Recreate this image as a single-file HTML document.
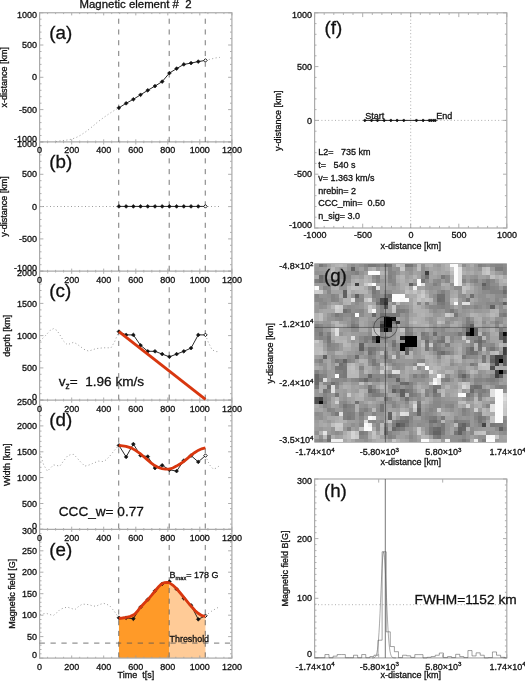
<!DOCTYPE html>
<html lang="en"><head><meta charset="utf-8"><title>Magnetic element # 2</title>
<style>html,body{margin:0;padding:0;background:#fff;}body{width:525px;height:681px;overflow:hidden;font-family:"Liberation Sans", Arial, Helvetica, sans-serif;}svg text{white-space:pre;fill:#111;stroke:#111;stroke-width:.3px;}</style>
</head><body>
<svg width="525" height="681" viewBox="0 0 525 681" font-family='"Liberation Sans", Arial, Helvetica, sans-serif' style="display:block">
<rect width="525" height="681" fill="#fff"/>
<polygon points="118.92,658.10 118.92,618.48 122.50,618.00 126.60,617.30 130.50,616.30 134.20,614.60 137.20,611.50 140.30,607.50 144.00,603.50 147.90,599.60 151.70,595.20 155.50,590.50 158.60,586.80 161.60,584.00 164.50,582.60 167.00,582.30 169.20,582.70 169.40,582.84 169.40,658.10" fill="#ff9a28"/>
<polygon points="169.40,658.10 169.40,582.84 173.00,585.30 176.90,589.00 180.70,593.50 184.50,598.10 188.30,602.80 192.10,607.30 195.20,610.70 198.20,613.30 201.50,615.40 205.40,616.50 205.46,616.50 205.46,658.10" fill="#ffcb97"/>
<path d="M39.6 12.8h3.8M39.6 19.2h1.9M39.6 25.7h1.9M39.6 32.1h1.9M39.6 38.6h1.9M39.6 45.0h3.8M39.6 51.5h1.9M39.6 58.0h1.9M39.6 64.4h1.9M39.6 70.9h1.9M39.6 77.3h3.8M39.6 83.8h1.9M39.6 90.3h1.9M39.6 96.7h1.9M39.6 103.2h1.9M39.6 109.6h3.8M39.6 116.1h1.9M39.6 122.6h1.9M39.6 129.0h1.9M39.6 135.5h1.9M39.6 141.9h3.8M231.9 12.8h-3.8M231.9 19.2h-1.9M231.9 25.7h-1.9M231.9 32.1h-1.9M231.9 38.6h-1.9M231.9 45.0h-3.8M231.9 51.5h-1.9M231.9 58.0h-1.9M231.9 64.4h-1.9M231.9 70.9h-1.9M231.9 77.3h-3.8M231.9 83.8h-1.9M231.9 90.3h-1.9M231.9 96.7h-1.9M231.9 103.2h-1.9M231.9 109.6h-3.8M231.9 116.1h-1.9M231.9 122.6h-1.9M231.9 129.0h-1.9M231.9 135.5h-1.9M231.9 141.9h-3.8M39.6 141.9v-2.6M47.6 141.9v-1.3M55.6 141.9v-1.3M63.6 141.9v-1.3M71.7 141.9v-2.6M79.7 141.9v-1.3M87.7 141.9v-1.3M95.7 141.9v-1.3M103.7 141.9v-2.6M111.7 141.9v-1.3M119.7 141.9v-1.3M127.7 141.9v-1.3M135.8 141.9v-2.6M143.8 141.9v-1.3M151.8 141.9v-1.3M159.8 141.9v-1.3M167.8 141.9v-2.6M175.8 141.9v-1.3M183.8 141.9v-1.3M191.8 141.9v-1.3M199.8 141.9v-2.6M207.9 141.9v-1.3M215.9 141.9v-1.3M223.9 141.9v-1.3M231.9 141.9v-2.6M39.6 12.8v2.6M47.6 12.8v1.3M55.6 12.8v1.3M63.6 12.8v1.3M71.7 12.8v2.6M79.7 12.8v1.3M87.7 12.8v1.3M95.7 12.8v1.3M103.7 12.8v2.6M111.7 12.8v1.3M119.7 12.8v1.3M127.7 12.8v1.3M135.8 12.8v2.6M143.8 12.8v1.3M151.8 12.8v1.3M159.8 12.8v1.3M167.8 12.8v2.6M175.8 12.8v1.3M183.8 12.8v1.3M191.8 12.8v1.3M199.8 12.8v2.6M207.9 12.8v1.3M215.9 12.8v1.3M223.9 12.8v1.3M231.9 12.8v2.6M39.6 141.9h3.8M39.6 148.4h1.9M39.6 154.9h1.9M39.6 161.3h1.9M39.6 167.8h1.9M39.6 174.3h3.8M39.6 180.7h1.9M39.6 187.2h1.9M39.6 193.6h1.9M39.6 200.1h1.9M39.6 206.6h3.8M39.6 213.0h1.9M39.6 219.5h1.9M39.6 226.0h1.9M39.6 232.4h1.9M39.6 238.9h3.8M39.6 245.3h1.9M39.6 251.8h1.9M39.6 258.3h1.9M39.6 264.7h1.9M39.6 271.2h3.8M231.9 141.9h-3.8M231.9 148.4h-1.9M231.9 154.9h-1.9M231.9 161.3h-1.9M231.9 167.8h-1.9M231.9 174.3h-3.8M231.9 180.7h-1.9M231.9 187.2h-1.9M231.9 193.6h-1.9M231.9 200.1h-1.9M231.9 206.6h-3.8M231.9 213.0h-1.9M231.9 219.5h-1.9M231.9 226.0h-1.9M231.9 232.4h-1.9M231.9 238.9h-3.8M231.9 245.3h-1.9M231.9 251.8h-1.9M231.9 258.3h-1.9M231.9 264.7h-1.9M231.9 271.2h-3.8M39.6 271.2v-2.6M47.6 271.2v-1.3M55.6 271.2v-1.3M63.6 271.2v-1.3M71.7 271.2v-2.6M79.7 271.2v-1.3M87.7 271.2v-1.3M95.7 271.2v-1.3M103.7 271.2v-2.6M111.7 271.2v-1.3M119.7 271.2v-1.3M127.7 271.2v-1.3M135.8 271.2v-2.6M143.8 271.2v-1.3M151.8 271.2v-1.3M159.8 271.2v-1.3M167.8 271.2v-2.6M175.8 271.2v-1.3M183.8 271.2v-1.3M191.8 271.2v-1.3M199.8 271.2v-2.6M207.9 271.2v-1.3M215.9 271.2v-1.3M223.9 271.2v-1.3M231.9 271.2v-2.6M39.6 141.9v2.6M47.6 141.9v1.3M55.6 141.9v1.3M63.6 141.9v1.3M71.7 141.9v2.6M79.7 141.9v1.3M87.7 141.9v1.3M95.7 141.9v1.3M103.7 141.9v2.6M111.7 141.9v1.3M119.7 141.9v1.3M127.7 141.9v1.3M135.8 141.9v2.6M143.8 141.9v1.3M151.8 141.9v1.3M159.8 141.9v1.3M167.8 141.9v2.6M175.8 141.9v1.3M183.8 141.9v1.3M191.8 141.9v1.3M199.8 141.9v2.6M207.9 141.9v1.3M215.9 141.9v1.3M223.9 141.9v1.3M231.9 141.9v2.6M39.6 271.2h3.8M39.6 277.6h1.9M39.6 284.1h1.9M39.6 290.5h1.9M39.6 297.0h1.9M39.6 303.4h3.8M39.6 309.9h1.9M39.6 316.3h1.9M39.6 322.8h1.9M39.6 329.2h1.9M39.6 335.6h3.8M39.6 342.1h1.9M39.6 348.5h1.9M39.6 355.0h1.9M39.6 361.4h1.9M39.6 367.9h3.8M39.6 374.3h1.9M39.6 380.8h1.9M39.6 387.2h1.9M39.6 393.7h1.9M39.6 400.1h3.8M231.9 271.2h-3.8M231.9 277.6h-1.9M231.9 284.1h-1.9M231.9 290.5h-1.9M231.9 297.0h-1.9M231.9 303.4h-3.8M231.9 309.9h-1.9M231.9 316.3h-1.9M231.9 322.8h-1.9M231.9 329.2h-1.9M231.9 335.6h-3.8M231.9 342.1h-1.9M231.9 348.5h-1.9M231.9 355.0h-1.9M231.9 361.4h-1.9M231.9 367.9h-3.8M231.9 374.3h-1.9M231.9 380.8h-1.9M231.9 387.2h-1.9M231.9 393.7h-1.9M231.9 400.1h-3.8M39.6 400.1v-2.6M47.6 400.1v-1.3M55.6 400.1v-1.3M63.6 400.1v-1.3M71.7 400.1v-2.6M79.7 400.1v-1.3M87.7 400.1v-1.3M95.7 400.1v-1.3M103.7 400.1v-2.6M111.7 400.1v-1.3M119.7 400.1v-1.3M127.7 400.1v-1.3M135.8 400.1v-2.6M143.8 400.1v-1.3M151.8 400.1v-1.3M159.8 400.1v-1.3M167.8 400.1v-2.6M175.8 400.1v-1.3M183.8 400.1v-1.3M191.8 400.1v-1.3M199.8 400.1v-2.6M207.9 400.1v-1.3M215.9 400.1v-1.3M223.9 400.1v-1.3M231.9 400.1v-2.6M39.6 271.2v2.6M47.6 271.2v1.3M55.6 271.2v1.3M63.6 271.2v1.3M71.7 271.2v2.6M79.7 271.2v1.3M87.7 271.2v1.3M95.7 271.2v1.3M103.7 271.2v2.6M111.7 271.2v1.3M119.7 271.2v1.3M127.7 271.2v1.3M135.8 271.2v2.6M143.8 271.2v1.3M151.8 271.2v1.3M159.8 271.2v1.3M167.8 271.2v2.6M175.8 271.2v1.3M183.8 271.2v1.3M191.8 271.2v1.3M199.8 271.2v2.6M207.9 271.2v1.3M215.9 271.2v1.3M223.9 271.2v1.3M231.9 271.2v2.6M39.6 400.1h3.8M39.6 405.3h1.9M39.6 410.4h1.9M39.6 415.6h1.9M39.6 420.8h1.9M39.6 425.9h3.8M39.6 431.1h1.9M39.6 436.3h1.9M39.6 441.4h1.9M39.6 446.6h1.9M39.6 451.8h3.8M39.6 456.9h1.9M39.6 462.1h1.9M39.6 467.3h1.9M39.6 472.5h1.9M39.6 477.6h3.8M39.6 482.8h1.9M39.6 488.0h1.9M39.6 493.1h1.9M39.6 498.3h1.9M39.6 503.5h3.8M39.6 508.6h1.9M39.6 513.8h1.9M39.6 519.0h1.9M39.6 524.1h1.9M39.6 529.3h3.8M231.9 400.1h-3.8M231.9 405.3h-1.9M231.9 410.4h-1.9M231.9 415.6h-1.9M231.9 420.8h-1.9M231.9 425.9h-3.8M231.9 431.1h-1.9M231.9 436.3h-1.9M231.9 441.4h-1.9M231.9 446.6h-1.9M231.9 451.8h-3.8M231.9 456.9h-1.9M231.9 462.1h-1.9M231.9 467.3h-1.9M231.9 472.5h-1.9M231.9 477.6h-3.8M231.9 482.8h-1.9M231.9 488.0h-1.9M231.9 493.1h-1.9M231.9 498.3h-1.9M231.9 503.5h-3.8M231.9 508.6h-1.9M231.9 513.8h-1.9M231.9 519.0h-1.9M231.9 524.1h-1.9M231.9 529.3h-3.8M39.6 529.3v-2.6M47.6 529.3v-1.3M55.6 529.3v-1.3M63.6 529.3v-1.3M71.7 529.3v-2.6M79.7 529.3v-1.3M87.7 529.3v-1.3M95.7 529.3v-1.3M103.7 529.3v-2.6M111.7 529.3v-1.3M119.7 529.3v-1.3M127.7 529.3v-1.3M135.8 529.3v-2.6M143.8 529.3v-1.3M151.8 529.3v-1.3M159.8 529.3v-1.3M167.8 529.3v-2.6M175.8 529.3v-1.3M183.8 529.3v-1.3M191.8 529.3v-1.3M199.8 529.3v-2.6M207.9 529.3v-1.3M215.9 529.3v-1.3M223.9 529.3v-1.3M231.9 529.3v-2.6M39.6 400.1v2.6M47.6 400.1v1.3M55.6 400.1v1.3M63.6 400.1v1.3M71.7 400.1v2.6M79.7 400.1v1.3M87.7 400.1v1.3M95.7 400.1v1.3M103.7 400.1v2.6M111.7 400.1v1.3M119.7 400.1v1.3M127.7 400.1v1.3M135.8 400.1v2.6M143.8 400.1v1.3M151.8 400.1v1.3M159.8 400.1v1.3M167.8 400.1v2.6M175.8 400.1v1.3M183.8 400.1v1.3M191.8 400.1v1.3M199.8 400.1v2.6M207.9 400.1v1.3M215.9 400.1v1.3M223.9 400.1v1.3M231.9 400.1v2.6M39.6 529.3h3.8M39.6 533.6h1.9M39.6 537.9h1.9M39.6 542.2h1.9M39.6 546.5h1.9M39.6 550.8h3.8M39.6 555.1h1.9M39.6 559.4h1.9M39.6 563.6h1.9M39.6 567.9h1.9M39.6 572.2h3.8M39.6 576.5h1.9M39.6 580.8h1.9M39.6 585.1h1.9M39.6 589.4h1.9M39.6 593.7h3.8M39.6 598.0h1.9M39.6 602.3h1.9M39.6 606.6h1.9M39.6 610.9h1.9M39.6 615.2h3.8M39.6 619.5h1.9M39.6 623.8h1.9M39.6 628.0h1.9M39.6 632.3h1.9M39.6 636.6h3.8M39.6 640.9h1.9M39.6 645.2h1.9M39.6 649.5h1.9M39.6 653.8h1.9M39.6 658.1h3.8M231.9 529.3h-3.8M231.9 533.6h-1.9M231.9 537.9h-1.9M231.9 542.2h-1.9M231.9 546.5h-1.9M231.9 550.8h-3.8M231.9 555.1h-1.9M231.9 559.4h-1.9M231.9 563.6h-1.9M231.9 567.9h-1.9M231.9 572.2h-3.8M231.9 576.5h-1.9M231.9 580.8h-1.9M231.9 585.1h-1.9M231.9 589.4h-1.9M231.9 593.7h-3.8M231.9 598.0h-1.9M231.9 602.3h-1.9M231.9 606.6h-1.9M231.9 610.9h-1.9M231.9 615.2h-3.8M231.9 619.5h-1.9M231.9 623.8h-1.9M231.9 628.0h-1.9M231.9 632.3h-1.9M231.9 636.6h-3.8M231.9 640.9h-1.9M231.9 645.2h-1.9M231.9 649.5h-1.9M231.9 653.8h-1.9M231.9 658.1h-3.8M39.6 658.1v-2.6M47.6 658.1v-1.3M55.6 658.1v-1.3M63.6 658.1v-1.3M71.7 658.1v-2.6M79.7 658.1v-1.3M87.7 658.1v-1.3M95.7 658.1v-1.3M103.7 658.1v-2.6M111.7 658.1v-1.3M119.7 658.1v-1.3M127.7 658.1v-1.3M135.8 658.1v-2.6M143.8 658.1v-1.3M151.8 658.1v-1.3M159.8 658.1v-1.3M167.8 658.1v-2.6M175.8 658.1v-1.3M183.8 658.1v-1.3M191.8 658.1v-1.3M199.8 658.1v-2.6M207.9 658.1v-1.3M215.9 658.1v-1.3M223.9 658.1v-1.3M231.9 658.1v-2.6M39.6 529.3v2.6M47.6 529.3v1.3M55.6 529.3v1.3M63.6 529.3v1.3M71.7 529.3v2.6M79.7 529.3v1.3M87.7 529.3v1.3M95.7 529.3v1.3M103.7 529.3v2.6M111.7 529.3v1.3M119.7 529.3v1.3M127.7 529.3v1.3M135.8 529.3v2.6M143.8 529.3v1.3M151.8 529.3v1.3M159.8 529.3v1.3M167.8 529.3v2.6M175.8 529.3v1.3M183.8 529.3v1.3M191.8 529.3v1.3M199.8 529.3v2.6M207.9 529.3v1.3M215.9 529.3v1.3M223.9 529.3v1.3M231.9 529.3v2.6" fill="none" stroke="#9a9a9a" stroke-width="0.8"/>
<rect x="39.60" y="12.75" width="192.30" height="645.35" fill="none" stroke="#aaaaaa" stroke-width="1.2"/>
<line x1="39.60" y1="141.95" x2="231.90" y2="141.95" stroke="#aaaaaa" stroke-width="1.2" />
<line x1="39.60" y1="271.20" x2="231.90" y2="271.20" stroke="#aaaaaa" stroke-width="1.2" />
<line x1="39.60" y1="400.10" x2="231.90" y2="400.10" stroke="#aaaaaa" stroke-width="1.2" />
<line x1="39.60" y1="529.30" x2="231.90" y2="529.30" stroke="#aaaaaa" stroke-width="1.2" />
<line x1="118.72" y1="12.75" x2="118.72" y2="658.10" stroke="#555" stroke-width="0.8" stroke-dasharray="5.1 5.64" stroke-dashoffset="-5.95"/>
<line x1="169.20" y1="12.75" x2="169.20" y2="658.10" stroke="#555" stroke-width="0.8" stroke-dasharray="5.1 5.64" stroke-dashoffset="-5.95"/>
<line x1="205.26" y1="12.75" x2="205.26" y2="658.10" stroke="#555" stroke-width="0.8" stroke-dasharray="5.1 5.64" stroke-dashoffset="-5.95"/>
<line x1="39.60" y1="643.10" x2="231.90" y2="643.10" stroke="#555" stroke-width="0.8" stroke-dasharray="5.3 5.6"/>
<polyline points="56.00,141.60 60.50,140.80 66.00,140.20 71.10,139.30 76.00,137.60 80.30,135.40 86.00,131.60 91.00,127.70 98.60,121.30 104.00,117.30 109.20,113.70 114.00,110.60 118.80,107.80" fill="none" stroke="#9c9c9c" stroke-width="1.0" stroke-dasharray="1 2.5"/>
<polyline points="205.40,60.40 210.80,59.10 215.80,57.90 219.80,57.40" fill="none" stroke="#9c9c9c" stroke-width="1.0" stroke-dasharray="1 2.5"/>
<polyline points="39.50,206.50 219.50,206.50" fill="none" stroke="#9c9c9c" stroke-width="1.0" stroke-dasharray="1 2.5"/>
<polyline points="40.00,341.00 46.20,334.90 50.00,330.50 53.60,328.60 57.00,330.50 59.90,334.90 63.50,341.00 67.40,344.80 70.50,343.50 73.60,342.30 76.50,343.80 79.80,346.10 84.00,349.30 88.60,351.10 92.00,350.00 96.00,348.60 103.50,347.80 111.00,347.80 114.50,342.00 118.80,331.60" fill="none" stroke="#9c9c9c" stroke-width="1.0" stroke-dasharray="1 2.5"/>
<polyline points="205.40,334.90 208.30,342.30 212.10,349.80 215.80,351.60 219.60,351.60" fill="none" stroke="#9c9c9c" stroke-width="1.0" stroke-dasharray="1 2.5"/>
<polyline points="40.00,453.60 43.70,464.90 47.40,471.10 50.50,468.00 53.60,464.90 56.80,465.50 59.90,466.10 63.50,461.00 67.40,456.10 70.50,454.60 73.60,454.40 76.70,457.50 79.80,461.10 84.80,466.10 88.50,465.20 92.30,463.60 98.50,461.10 103.50,461.60 106.50,459.50 109.80,456.10 114.30,450.50 118.80,445.40" fill="none" stroke="#9c9c9c" stroke-width="1.0" stroke-dasharray="1 2.5"/>
<polyline points="205.40,455.60 209.60,464.90 213.30,469.10 216.50,468.00 219.60,465.60" fill="none" stroke="#9c9c9c" stroke-width="1.0" stroke-dasharray="1 2.5"/>
<polyline points="40.00,614.50 46.20,613.30 50.00,614.60 53.60,615.30 56.70,612.80 59.90,609.60 63.60,608.00 67.40,607.10 71.00,608.30 74.90,609.60 78.60,606.50 82.30,604.10 88.60,604.60 92.30,605.80 96.00,606.30 99.70,604.50 103.50,603.30 106.60,604.20 109.80,605.80 114.80,612.00 118.80,617.80" fill="none" stroke="#9c9c9c" stroke-width="1.0" stroke-dasharray="1 2.5"/>
<polyline points="205.40,615.80 212.10,610.80 219.60,606.60" fill="none" stroke="#9c9c9c" stroke-width="1.0" stroke-dasharray="1 2.5"/>
<text x="37.10" y="17.95" font-size="9.0" text-anchor="end" >1000</text>
<text x="37.10" y="48.15" font-size="9.0" text-anchor="end" >500</text>
<text x="37.10" y="80.45" font-size="9.0" text-anchor="end" >0</text>
<text x="37.10" y="112.75" font-size="9.0" text-anchor="end" >-500</text>
<text x="37.10" y="141.65" font-size="9.0" text-anchor="end" >-1000</text>
<text x="39.60" y="153.35" font-size="9.0" text-anchor="middle" >0</text>
<text x="71.65" y="153.35" font-size="9.0" text-anchor="middle" >200</text>
<text x="103.70" y="153.35" font-size="9.0" text-anchor="middle" >400</text>
<text x="135.75" y="153.35" font-size="9.0" text-anchor="middle" >600</text>
<text x="167.80" y="153.35" font-size="9.0" text-anchor="middle" >800</text>
<text x="199.85" y="153.35" font-size="9.0" text-anchor="middle" >1000</text>
<text x="231.90" y="153.35" font-size="9.0" text-anchor="middle" >1200</text>
<text transform="translate(6.90,77.35) rotate(-90)" font-size="9.0" text-anchor="middle">x-distance [km]</text>
<text x="49.30" y="38.95" font-size="18.8" text-anchor="start" >(a)</text>
<text x="37.10" y="146.55" font-size="9.0" text-anchor="end" >1000</text>
<text x="37.10" y="177.36" font-size="9.0" text-anchor="end" >500</text>
<text x="37.10" y="209.67" font-size="9.0" text-anchor="end" >0</text>
<text x="37.10" y="241.99" font-size="9.0" text-anchor="end" >-500</text>
<text x="37.10" y="270.90" font-size="9.0" text-anchor="end" >-1000</text>
<text x="39.60" y="282.60" font-size="9.0" text-anchor="middle" >0</text>
<text x="71.65" y="282.60" font-size="9.0" text-anchor="middle" >200</text>
<text x="103.70" y="282.60" font-size="9.0" text-anchor="middle" >400</text>
<text x="135.75" y="282.60" font-size="9.0" text-anchor="middle" >600</text>
<text x="167.80" y="282.60" font-size="9.0" text-anchor="middle" >800</text>
<text x="199.85" y="282.60" font-size="9.0" text-anchor="middle" >1000</text>
<text x="231.90" y="282.60" font-size="9.0" text-anchor="middle" >1200</text>
<text transform="translate(6.90,206.57) rotate(-90)" font-size="9.0" text-anchor="middle">y-distance [km]</text>
<text x="49.30" y="168.15" font-size="18.8" text-anchor="start" >(b)</text>
<text x="37.10" y="275.80" font-size="9.0" text-anchor="end" >2000</text>
<text x="37.10" y="306.53" font-size="9.0" text-anchor="end" >1500</text>
<text x="37.10" y="338.75" font-size="9.0" text-anchor="end" >1000</text>
<text x="37.10" y="370.98" font-size="9.0" text-anchor="end" >500</text>
<text x="37.10" y="399.80" font-size="9.0" text-anchor="end" >0</text>
<text x="39.60" y="411.50" font-size="9.0" text-anchor="middle" >0</text>
<text x="71.65" y="411.50" font-size="9.0" text-anchor="middle" >200</text>
<text x="103.70" y="411.50" font-size="9.0" text-anchor="middle" >400</text>
<text x="135.75" y="411.50" font-size="9.0" text-anchor="middle" >600</text>
<text x="167.80" y="411.50" font-size="9.0" text-anchor="middle" >800</text>
<text x="199.85" y="411.50" font-size="9.0" text-anchor="middle" >1000</text>
<text x="231.90" y="411.50" font-size="9.0" text-anchor="middle" >1200</text>
<text transform="translate(9.90,335.65) rotate(-90)" font-size="9.0" text-anchor="middle">depth [km]</text>
<text x="49.30" y="297.40" font-size="18.8" text-anchor="start" >(c)</text>
<text x="37.10" y="404.70" font-size="9.0" text-anchor="end" >2500</text>
<text x="37.10" y="429.04" font-size="9.0" text-anchor="end" >2000</text>
<text x="37.10" y="454.88" font-size="9.0" text-anchor="end" >1500</text>
<text x="37.10" y="480.72" font-size="9.0" text-anchor="end" >1000</text>
<text x="37.10" y="506.56" font-size="9.0" text-anchor="end" >500</text>
<text x="37.10" y="529.00" font-size="9.0" text-anchor="end" >0</text>
<text x="39.60" y="540.70" font-size="9.0" text-anchor="middle" >0</text>
<text x="71.65" y="540.70" font-size="9.0" text-anchor="middle" >200</text>
<text x="103.70" y="540.70" font-size="9.0" text-anchor="middle" >400</text>
<text x="135.75" y="540.70" font-size="9.0" text-anchor="middle" >600</text>
<text x="167.80" y="540.70" font-size="9.0" text-anchor="middle" >800</text>
<text x="199.85" y="540.70" font-size="9.0" text-anchor="middle" >1000</text>
<text x="231.90" y="540.70" font-size="9.0" text-anchor="middle" >1200</text>
<text transform="translate(9.70,464.70) rotate(-90)" font-size="9.0" text-anchor="middle">Width [km]</text>
<text x="49.30" y="426.30" font-size="18.8" text-anchor="start" >(d)</text>
<text x="37.10" y="533.90" font-size="9.0" text-anchor="end" >300</text>
<text x="37.10" y="553.87" font-size="9.0" text-anchor="end" >250</text>
<text x="37.10" y="575.33" font-size="9.0" text-anchor="end" >200</text>
<text x="37.10" y="596.80" font-size="9.0" text-anchor="end" >150</text>
<text x="37.10" y="618.27" font-size="9.0" text-anchor="end" >100</text>
<text x="37.10" y="639.73" font-size="9.0" text-anchor="end" >50</text>
<text x="37.10" y="657.80" font-size="9.0" text-anchor="end" >0</text>
<text x="39.60" y="669.50" font-size="9.0" text-anchor="middle" >0</text>
<text x="71.65" y="669.50" font-size="9.0" text-anchor="middle" >200</text>
<text x="103.70" y="669.50" font-size="9.0" text-anchor="middle" >400</text>
<text x="135.75" y="669.50" font-size="9.0" text-anchor="middle" >600</text>
<text x="167.80" y="669.50" font-size="9.0" text-anchor="middle" >800</text>
<text x="199.85" y="669.50" font-size="9.0" text-anchor="middle" >1000</text>
<text x="231.90" y="669.50" font-size="9.0" text-anchor="middle" >1200</text>
<text transform="translate(15.30,593.70) rotate(-90)" font-size="9.0" text-anchor="middle">Magnetic field [G]</text>
<text x="49.30" y="555.50" font-size="18.8" text-anchor="start" >(e)</text>
<text x="135.60" y="8.30" font-size="11.4" text-anchor="middle" >Magnetic element #&#160; 2</text>
<text x="117.60" y="678.20" font-size="9.0" text-anchor="start" >Time&#160; t[s]</text>
<polyline points="118.92,107.80 126.13,103.30 133.35,99.30 140.56,94.80 147.77,90.30 154.98,86.10 162.19,81.60 169.40,73.10 176.61,68.60 183.82,64.40 191.04,63.10 198.25,61.60 205.46,60.40" fill="none" stroke="#111" stroke-width="0.9" />
<path d="M117.02 107.80L118.92 105.90L120.82 107.80L118.92 109.70Z" fill="#111" stroke="#111" stroke-width="0.6"/>
<path d="M124.23 103.30L126.13 101.40L128.03 103.30L126.13 105.20Z" fill="#111" stroke="#111" stroke-width="0.6"/>
<path d="M131.45 99.30L133.35 97.40L135.25 99.30L133.35 101.20Z" fill="#111" stroke="#111" stroke-width="0.6"/>
<path d="M138.66 94.80L140.56 92.90L142.46 94.80L140.56 96.70Z" fill="#111" stroke="#111" stroke-width="0.6"/>
<path d="M145.87 90.30L147.77 88.40L149.67 90.30L147.77 92.20Z" fill="#111" stroke="#111" stroke-width="0.6"/>
<path d="M153.08 86.10L154.98 84.20L156.88 86.10L154.98 88.00Z" fill="#111" stroke="#111" stroke-width="0.6"/>
<path d="M160.29 81.60L162.19 79.70L164.09 81.60L162.19 83.50Z" fill="#111" stroke="#111" stroke-width="0.6"/>
<path d="M167.50 73.10L169.40 71.20L171.30 73.10L169.40 75.00Z" fill="#111" stroke="#111" stroke-width="0.6"/>
<path d="M174.71 68.60L176.61 66.70L178.51 68.60L176.61 70.50Z" fill="#111" stroke="#111" stroke-width="0.6"/>
<path d="M181.92 64.40L183.82 62.50L185.72 64.40L183.82 66.30Z" fill="#111" stroke="#111" stroke-width="0.6"/>
<path d="M189.14 63.10L191.04 61.20L192.94 63.10L191.04 65.00Z" fill="#111" stroke="#111" stroke-width="0.6"/>
<path d="M196.35 61.60L198.25 59.70L200.15 61.60L198.25 63.50Z" fill="#111" stroke="#111" stroke-width="0.6"/>
<path d="M203.71 60.40L205.46 58.65L207.21 60.40L205.46 62.15Z" fill="#fff" stroke="#111" stroke-width="0.95"/>
<polyline points="118.92,206.40 126.13,206.40 133.35,206.40 140.56,206.40 147.77,206.40 154.98,206.40 162.19,206.40 169.40,206.40 176.61,206.40 183.82,206.40 191.04,206.40 198.25,206.40 205.46,206.40" fill="none" stroke="#111" stroke-width="0.9" />
<path d="M117.02 206.40L118.92 204.50L120.82 206.40L118.92 208.30Z" fill="#111" stroke="#111" stroke-width="0.6"/>
<path d="M124.23 206.40L126.13 204.50L128.03 206.40L126.13 208.30Z" fill="#111" stroke="#111" stroke-width="0.6"/>
<path d="M131.45 206.40L133.35 204.50L135.25 206.40L133.35 208.30Z" fill="#111" stroke="#111" stroke-width="0.6"/>
<path d="M138.66 206.40L140.56 204.50L142.46 206.40L140.56 208.30Z" fill="#111" stroke="#111" stroke-width="0.6"/>
<path d="M145.87 206.40L147.77 204.50L149.67 206.40L147.77 208.30Z" fill="#111" stroke="#111" stroke-width="0.6"/>
<path d="M153.08 206.40L154.98 204.50L156.88 206.40L154.98 208.30Z" fill="#111" stroke="#111" stroke-width="0.6"/>
<path d="M160.29 206.40L162.19 204.50L164.09 206.40L162.19 208.30Z" fill="#111" stroke="#111" stroke-width="0.6"/>
<path d="M167.50 206.40L169.40 204.50L171.30 206.40L169.40 208.30Z" fill="#111" stroke="#111" stroke-width="0.6"/>
<path d="M174.71 206.40L176.61 204.50L178.51 206.40L176.61 208.30Z" fill="#111" stroke="#111" stroke-width="0.6"/>
<path d="M181.92 206.40L183.82 204.50L185.72 206.40L183.82 208.30Z" fill="#111" stroke="#111" stroke-width="0.6"/>
<path d="M189.14 206.40L191.04 204.50L192.94 206.40L191.04 208.30Z" fill="#111" stroke="#111" stroke-width="0.6"/>
<path d="M196.35 206.40L198.25 204.50L200.15 206.40L198.25 208.30Z" fill="#111" stroke="#111" stroke-width="0.6"/>
<path d="M203.71 206.40L205.46 204.65L207.21 206.40L205.46 208.15Z" fill="#fff" stroke="#111" stroke-width="0.95"/>
<polyline points="118.92,331.60 126.13,334.90 133.35,334.90 140.56,345.30 147.77,351.30 154.98,351.30 162.19,354.10 169.40,356.80 176.61,354.10 183.82,351.30 191.04,348.10 198.25,334.90 205.46,334.90" fill="none" stroke="#111" stroke-width="0.9" />
<path d="M117.02 331.60L118.92 329.70L120.82 331.60L118.92 333.50Z" fill="#111" stroke="#111" stroke-width="0.6"/>
<path d="M124.23 334.90L126.13 333.00L128.03 334.90L126.13 336.80Z" fill="#111" stroke="#111" stroke-width="0.6"/>
<path d="M131.45 334.90L133.35 333.00L135.25 334.90L133.35 336.80Z" fill="#111" stroke="#111" stroke-width="0.6"/>
<path d="M138.66 345.30L140.56 343.40L142.46 345.30L140.56 347.20Z" fill="#111" stroke="#111" stroke-width="0.6"/>
<path d="M145.87 351.30L147.77 349.40L149.67 351.30L147.77 353.20Z" fill="#111" stroke="#111" stroke-width="0.6"/>
<path d="M153.08 351.30L154.98 349.40L156.88 351.30L154.98 353.20Z" fill="#111" stroke="#111" stroke-width="0.6"/>
<path d="M160.29 354.10L162.19 352.20L164.09 354.10L162.19 356.00Z" fill="#111" stroke="#111" stroke-width="0.6"/>
<path d="M167.50 356.80L169.40 354.90L171.30 356.80L169.40 358.70Z" fill="#111" stroke="#111" stroke-width="0.6"/>
<path d="M174.71 354.10L176.61 352.20L178.51 354.10L176.61 356.00Z" fill="#111" stroke="#111" stroke-width="0.6"/>
<path d="M181.92 351.30L183.82 349.40L185.72 351.30L183.82 353.20Z" fill="#111" stroke="#111" stroke-width="0.6"/>
<path d="M189.14 348.10L191.04 346.20L192.94 348.10L191.04 350.00Z" fill="#111" stroke="#111" stroke-width="0.6"/>
<path d="M196.35 334.90L198.25 333.00L200.15 334.90L198.25 336.80Z" fill="#111" stroke="#111" stroke-width="0.6"/>
<path d="M203.71 334.90L205.46 333.15L207.21 334.90L205.46 336.65Z" fill="#fff" stroke="#111" stroke-width="0.95"/>
<polyline points="118.92,331.60 205.46,399.30" fill="none" stroke="#d8370f" stroke-width="2.9" stroke-linecap="butt"/>
<polyline points="118.92,445.40 126.13,456.90 133.35,444.10 140.56,455.40 147.77,456.60 154.98,468.10 162.19,465.30 169.40,469.80 176.61,471.10 183.82,460.60 191.04,455.60 198.25,461.90 205.46,455.60" fill="none" stroke="#111" stroke-width="0.9" />
<path d="M117.02 445.40L118.92 443.50L120.82 445.40L118.92 447.30Z" fill="#111" stroke="#111" stroke-width="0.6"/>
<path d="M124.23 456.90L126.13 455.00L128.03 456.90L126.13 458.80Z" fill="#111" stroke="#111" stroke-width="0.6"/>
<path d="M131.45 444.10L133.35 442.20L135.25 444.10L133.35 446.00Z" fill="#111" stroke="#111" stroke-width="0.6"/>
<path d="M138.66 455.40L140.56 453.50L142.46 455.40L140.56 457.30Z" fill="#111" stroke="#111" stroke-width="0.6"/>
<path d="M145.87 456.60L147.77 454.70L149.67 456.60L147.77 458.50Z" fill="#111" stroke="#111" stroke-width="0.6"/>
<path d="M153.08 468.10L154.98 466.20L156.88 468.10L154.98 470.00Z" fill="#111" stroke="#111" stroke-width="0.6"/>
<path d="M160.29 465.30L162.19 463.40L164.09 465.30L162.19 467.20Z" fill="#111" stroke="#111" stroke-width="0.6"/>
<path d="M167.50 469.80L169.40 467.90L171.30 469.80L169.40 471.70Z" fill="#111" stroke="#111" stroke-width="0.6"/>
<path d="M174.71 471.10L176.61 469.20L178.51 471.10L176.61 473.00Z" fill="#111" stroke="#111" stroke-width="0.6"/>
<path d="M181.92 460.60L183.82 458.70L185.72 460.60L183.82 462.50Z" fill="#111" stroke="#111" stroke-width="0.6"/>
<path d="M189.14 455.60L191.04 453.70L192.94 455.60L191.04 457.50Z" fill="#111" stroke="#111" stroke-width="0.6"/>
<path d="M196.35 461.90L198.25 460.00L200.15 461.90L198.25 463.80Z" fill="#111" stroke="#111" stroke-width="0.6"/>
<path d="M203.71 455.60L205.46 453.85L207.21 455.60L205.46 457.35Z" fill="#fff" stroke="#111" stroke-width="0.95"/>
<polyline points="118.80,445.40 122.50,445.80 126.00,446.40 131.00,447.90 135.50,450.40 140.20,453.60 143.80,456.70 147.50,459.90 151.00,462.90 154.70,465.60 158.30,467.50 162.00,468.60 165.50,469.20 169.20,469.10 172.80,468.00 176.40,466.10 180.00,464.00 183.60,461.60 187.20,458.60 190.90,455.40 194.50,452.70 198.10,450.40 201.70,448.80 205.40,447.90" fill="none" stroke="#d8370f" stroke-width="2.8" />
<polyline points="118.92,617.80 126.13,617.80 133.35,618.80 140.56,607.10 147.77,599.60 154.98,590.80 162.19,583.90 169.40,581.60 176.61,589.10 183.82,598.30 191.04,605.30 198.25,619.30 205.46,615.80" fill="none" stroke="#111" stroke-width="0.9" />
<path d="M117.02 617.80L118.92 615.90L120.82 617.80L118.92 619.70Z" fill="#111" stroke="#111" stroke-width="0.6"/>
<path d="M124.23 617.80L126.13 615.90L128.03 617.80L126.13 619.70Z" fill="#111" stroke="#111" stroke-width="0.6"/>
<path d="M131.45 618.80L133.35 616.90L135.25 618.80L133.35 620.70Z" fill="#111" stroke="#111" stroke-width="0.6"/>
<path d="M138.66 607.10L140.56 605.20L142.46 607.10L140.56 609.00Z" fill="#111" stroke="#111" stroke-width="0.6"/>
<path d="M145.87 599.60L147.77 597.70L149.67 599.60L147.77 601.50Z" fill="#111" stroke="#111" stroke-width="0.6"/>
<path d="M153.08 590.80L154.98 588.90L156.88 590.80L154.98 592.70Z" fill="#111" stroke="#111" stroke-width="0.6"/>
<path d="M160.29 583.90L162.19 582.00L164.09 583.90L162.19 585.80Z" fill="#111" stroke="#111" stroke-width="0.6"/>
<path d="M167.50 581.60L169.40 579.70L171.30 581.60L169.40 583.50Z" fill="#111" stroke="#111" stroke-width="0.6"/>
<path d="M174.71 589.10L176.61 587.20L178.51 589.10L176.61 591.00Z" fill="#111" stroke="#111" stroke-width="0.6"/>
<path d="M181.92 598.30L183.82 596.40L185.72 598.30L183.82 600.20Z" fill="#111" stroke="#111" stroke-width="0.6"/>
<path d="M189.14 605.30L191.04 603.40L192.94 605.30L191.04 607.20Z" fill="#111" stroke="#111" stroke-width="0.6"/>
<path d="M196.35 619.30L198.25 617.40L200.15 619.30L198.25 621.20Z" fill="#111" stroke="#111" stroke-width="0.6"/>
<path d="M203.71 615.80L205.46 614.05L207.21 615.80L205.46 617.55Z" fill="#fff" stroke="#111" stroke-width="0.95"/>
<polyline points="118.80,618.50 122.50,618.00 126.60,617.30 130.50,616.30 134.20,614.60 137.20,611.50 140.30,607.50 144.00,603.50 147.90,599.60 151.70,595.20 155.50,590.50 158.60,586.80 161.60,584.00 164.50,582.60 167.00,582.30 169.20,582.70 173.00,585.30 176.90,589.00 180.70,593.50 184.50,598.10 188.30,602.80 192.10,607.30 195.20,610.70 198.20,613.30 201.50,615.40 205.40,616.50" fill="none" stroke="#d8370f" stroke-width="2.8" />
<text x="58.8" y="386.2" font-size="13.6">v<tspan font-size="8.2" dy="2.8">z</tspan><tspan dy="-2.8">=&#160; 1.96 km/s</tspan></text>
<text x="58.80" y="515.60" font-size="13.6" text-anchor="start" >CCC_w= 0.77</text>
<text x="169.6" y="577.8" font-size="9">B<tspan font-size="5.6" dy="1.8">max</tspan><tspan dy="-1.8">= 178 G</tspan></text>
<text x="169.60" y="641.50" font-size="8.9" text-anchor="start" >Threshold</text>
<path d="M314.6 12.8h3.8M314.6 23.6h1.9M314.6 34.3h1.9M314.6 45.1h1.9M314.6 55.8h1.9M314.6 66.6h3.8M314.6 77.4h1.9M314.6 88.1h1.9M314.6 98.9h1.9M314.6 109.6h1.9M314.6 120.4h3.8M314.6 131.2h1.9M314.6 141.9h1.9M314.6 152.7h1.9M314.6 163.4h1.9M314.6 174.2h3.8M314.6 185.0h1.9M314.6 195.7h1.9M314.6 206.5h1.9M314.6 217.2h1.9M314.6 228.0h3.8M506.8 12.8h-3.8M506.8 23.6h-1.9M506.8 34.3h-1.9M506.8 45.1h-1.9M506.8 55.8h-1.9M506.8 66.6h-3.8M506.8 77.4h-1.9M506.8 88.1h-1.9M506.8 98.9h-1.9M506.8 109.6h-1.9M506.8 120.4h-3.8M506.8 131.2h-1.9M506.8 141.9h-1.9M506.8 152.7h-1.9M506.8 163.4h-1.9M506.8 174.2h-3.8M506.8 185.0h-1.9M506.8 195.7h-1.9M506.8 206.5h-1.9M506.8 217.2h-1.9M506.8 228.0h-3.8M314.6 228.0v-4.3M324.2 228.0v-2.1M333.8 228.0v-2.1M343.4 228.0v-2.1M353.0 228.0v-2.1M362.7 228.0v-4.3M372.3 228.0v-2.1M381.9 228.0v-2.1M391.5 228.0v-2.1M401.1 228.0v-2.1M410.7 228.0v-4.3M420.3 228.0v-2.1M429.9 228.0v-2.1M439.5 228.0v-2.1M449.1 228.0v-2.1M458.8 228.0v-4.3M468.4 228.0v-2.1M478.0 228.0v-2.1M487.6 228.0v-2.1M497.2 228.0v-2.1M506.8 228.0v-4.3M314.6 12.8v4.3M324.2 12.8v2.1M333.8 12.8v2.1M343.4 12.8v2.1M353.0 12.8v2.1M362.7 12.8v4.3M372.3 12.8v2.1M381.9 12.8v2.1M391.5 12.8v2.1M401.1 12.8v2.1M410.7 12.8v4.3M420.3 12.8v2.1M429.9 12.8v2.1M439.5 12.8v2.1M449.1 12.8v2.1M458.8 12.8v4.3M468.4 12.8v2.1M478.0 12.8v2.1M487.6 12.8v2.1M497.2 12.8v2.1M506.8 12.8v4.3" fill="none" stroke="#9a9a9a" stroke-width="0.8"/>
<rect x="314.60" y="12.80" width="192.20" height="215.20" fill="none" stroke="#aaaaaa" stroke-width="1.2"/>
<line x1="410.70" y1="12.80" x2="410.70" y2="228.00" stroke="#999" stroke-width="0.8" stroke-dasharray="1 2.4"/>
<line x1="314.60" y1="120.40" x2="506.80" y2="120.40" stroke="#999" stroke-width="0.8" stroke-dasharray="1 2.4"/>
<text x="312.10" y="18.20" font-size="9.0" text-anchor="end" >1000</text>
<text x="312.10" y="69.70" font-size="9.0" text-anchor="end" >500</text>
<text x="312.10" y="123.50" font-size="9.0" text-anchor="end" >0</text>
<text x="312.10" y="177.30" font-size="9.0" text-anchor="end" >-500</text>
<text x="312.10" y="227.80" font-size="9.0" text-anchor="end" >-1000</text>
<text x="314.90" y="238.20" font-size="9.0" text-anchor="middle" >-1000</text>
<text x="362.95" y="238.20" font-size="9.0" text-anchor="middle" >-500</text>
<text x="411.00" y="238.20" font-size="9.0" text-anchor="middle" >0</text>
<text x="459.05" y="238.20" font-size="9.0" text-anchor="middle" >500</text>
<text x="507.10" y="238.20" font-size="9.0" text-anchor="middle" >1000</text>
<text x="410.70" y="249.40" font-size="9.0" text-anchor="middle" >x-distance [km]</text>
<text transform="translate(281.20,120.80) rotate(-90)" font-size="9.0" text-anchor="middle">y-distance [km]</text>
<text x="324.60" y="34.30" font-size="18.8" text-anchor="start" >(f)</text>
<polyline points="364.84,120.40 371.53,120.40 377.48,120.40 384.17,120.40 390.86,120.40 397.10,120.40 403.79,120.40 416.42,120.40 423.11,120.40 429.36,120.40 431.29,120.40 433.52,120.40 435.30,120.40" fill="none" stroke="#111" stroke-width="0.9" />
<path d="M363.34 120.40L364.84 118.90L366.34 120.40L364.84 121.90Z" fill="#111" stroke="#111" stroke-width="0.6"/>
<path d="M370.03 120.40L371.53 118.90L373.03 120.40L371.53 121.90Z" fill="#111" stroke="#111" stroke-width="0.6"/>
<path d="M375.98 120.40L377.48 118.90L378.98 120.40L377.48 121.90Z" fill="#111" stroke="#111" stroke-width="0.6"/>
<path d="M382.67 120.40L384.17 118.90L385.67 120.40L384.17 121.90Z" fill="#111" stroke="#111" stroke-width="0.6"/>
<path d="M389.36 120.40L390.86 118.90L392.36 120.40L390.86 121.90Z" fill="#111" stroke="#111" stroke-width="0.6"/>
<path d="M395.60 120.40L397.10 118.90L398.60 120.40L397.10 121.90Z" fill="#111" stroke="#111" stroke-width="0.6"/>
<path d="M402.29 120.40L403.79 118.90L405.29 120.40L403.79 121.90Z" fill="#111" stroke="#111" stroke-width="0.6"/>
<path d="M414.92 120.40L416.42 118.90L417.92 120.40L416.42 121.90Z" fill="#111" stroke="#111" stroke-width="0.6"/>
<path d="M421.61 120.40L423.11 118.90L424.61 120.40L423.11 121.90Z" fill="#111" stroke="#111" stroke-width="0.6"/>
<path d="M427.86 120.40L429.36 118.90L430.86 120.40L429.36 121.90Z" fill="#111" stroke="#111" stroke-width="0.6"/>
<path d="M429.79 120.40L431.29 118.90L432.79 120.40L431.29 121.90Z" fill="#111" stroke="#111" stroke-width="0.6"/>
<path d="M432.02 120.40L433.52 118.90L435.02 120.40L433.52 121.90Z" fill="#111" stroke="#111" stroke-width="0.6"/>
<path d="M433.80 120.40L435.30 118.90L436.80 120.40L435.30 121.90Z" fill="#111" stroke="#111" stroke-width="0.6"/>
<text x="365.30" y="118.60" font-size="9.0" text-anchor="start" >Start</text>
<text x="436.30" y="119.30" font-size="9.0" text-anchor="start" >End</text>
<text x="318.20" y="154.90" font-size="9.0" text-anchor="start" >L2=&#160;&#160; 735 km</text>
<text x="318.20" y="167.77" font-size="9.0" text-anchor="start" >t=&#160;&#160; 540 s</text>
<text x="318.20" y="180.64" font-size="9.0" text-anchor="start" >v= 1.363 km/s</text>
<text x="318.20" y="193.51" font-size="9.0" text-anchor="start" >nrebin= 2</text>
<text x="318.20" y="206.38" font-size="9.0" text-anchor="start" >CCC_min=&#160; 0.50</text>
<text x="318.20" y="219.25" font-size="9.0" text-anchor="start" >n_sig= 3.0</text>
<rect x="314.4" y="263.5" width="192.42" height="178.88" fill="#9e9e9e"/>
<defs><filter id="bl" x="-5%" y="-5%" width="110%" height="110%"><feGaussianBlur stdDeviation="0.55"/></filter><clipPath id="gc"><rect x="314.4" y="263.5" width="192.42" height="178.88"/></clipPath></defs>
<g clip-path="url(#gc)"><g filter="url(#bl)" stroke="none" shape-rendering="crispEdges">
<rect x="311.4" y="260.5" width="198.42" height="184.88" fill="#9a9a9a"/>
<path fill="#000000" d="M384.0 320.6H392.2V324.4H384.0ZM384.0 324.4H388.1V328.2H384.0Z"/>
<path fill="#040404" d="M384.0 316.8H392.2V320.6H384.0ZM388.1 324.4H392.2V328.2H388.1ZM384.0 328.2H388.1V332.0H384.0ZM470.0 328.2H474.1V332.0H470.0ZM470.0 332.0H474.1V335.8H470.0ZM404.5 335.8H416.8V339.6H404.5ZM375.8 339.6H379.9V343.4H375.8ZM404.5 339.6H416.8V343.4H404.5ZM400.4 343.4H416.8V347.2H400.4ZM400.4 347.2H404.5V351.0H400.4ZM498.6 358.6H502.7V362.5H498.6ZM498.6 370.1H502.7V373.9H498.6Z"/>
<path fill="#080808" d="M392.2 316.8H396.3V320.6H392.2ZM375.8 335.8H379.9V339.6H375.8ZM318.5 400.5H322.6V404.3H318.5Z"/>
<path fill="#101010" d="M502.7 332.0H506.8V335.8H502.7Z"/>
<path fill="#202020" d="M465.9 332.0H470.0V335.8H465.9Z"/>
<path fill="#282828" d="M400.4 335.8H404.5V339.6H400.4Z"/>
<path fill="#303030" d="M384.0 301.6H388.1V305.4H384.0Z"/>
<path fill="#343434" d="M396.3 320.6H400.4V324.4H396.3ZM379.9 324.4H384.0V328.2H379.9Z"/>
<path fill="#3c3c3c" d="M384.0 297.8H388.1V301.6H384.0Z"/>
<path fill="#404040" d="M424.9 271.1H429.0V274.9H424.9ZM355.3 282.5H359.4V286.3H355.3ZM388.1 328.2H392.2V332.0H388.1ZM502.7 347.2H506.8V351.0H502.7ZM502.7 351.0H506.8V354.8H502.7ZM494.5 354.8H502.7V358.6H494.5ZM494.5 358.6H498.6V362.5H494.5ZM494.5 362.5H498.6V366.3H494.5ZM494.5 373.9H498.6V377.7H494.5Z"/>
<path fill="#444444" d="M494.5 370.1H498.6V373.9H494.5ZM318.5 396.7H322.6V400.5H318.5ZM482.3 423.4H486.3V427.2H482.3Z"/>
<path fill="#484848" d="M379.9 328.2H384.0V332.0H379.9Z"/>
<path fill="#4c4c4c" d="M379.9 297.8H384.0V301.6H379.9Z"/>
<path fill="#505050" d="M379.9 301.6H384.0V305.4H379.9ZM371.7 335.8H375.8V339.6H371.7ZM502.7 335.8H506.8V339.6H502.7ZM502.7 339.6H506.8V343.4H502.7ZM490.4 366.3H494.5V370.1H490.4ZM314.4 396.7H318.5V400.5H314.4ZM314.4 400.5H318.5V404.3H314.4Z"/>
<path fill="#545454" d="M396.3 423.4H400.4V427.2H396.3Z"/>
<path fill="#585858" d="M384.0 305.4H388.1V309.2H384.0Z"/>
<path fill="#5c5c5c" d="M379.9 320.6H384.0V324.4H379.9Z"/>
<path fill="#606060" d="M351.2 267.3H355.3V271.1H351.2ZM408.6 282.5H412.7V286.3H408.6ZM482.3 282.5H486.3V286.3H482.3ZM343.1 290.1H347.2V293.9H343.1ZM343.1 293.9H347.2V297.8H343.1ZM355.3 293.9H359.4V297.8H355.3ZM502.7 301.6H506.8V305.4H502.7ZM490.4 305.4H494.5V309.2H490.4ZM470.0 324.4H474.1V328.2H470.0ZM465.9 328.2H470.0V332.0H465.9ZM474.1 328.2H478.2V332.0H474.1ZM474.1 332.0H478.2V335.8H474.1ZM498.6 332.0H502.7V335.8H498.6ZM498.6 335.8H502.7V339.6H498.6ZM359.4 347.2H363.5V351.0H359.4ZM404.5 347.2H408.6V351.0H404.5ZM404.5 351.0H408.6V354.8H404.5ZM322.6 354.8H326.7V358.6H322.6ZM502.7 354.8H506.8V358.6H502.7ZM490.4 358.6H494.5V362.5H490.4ZM502.7 358.6H506.8V362.5H502.7ZM502.7 362.5H506.8V366.3H502.7ZM502.7 370.1H506.8V373.9H502.7ZM498.6 373.9H502.7V377.7H498.6ZM396.3 377.7H400.4V381.5H396.3ZM392.2 389.1H396.3V392.9H392.2ZM400.4 389.1H404.5V392.9H400.4ZM400.4 392.9H404.5V396.7H400.4ZM388.1 415.7H392.2V419.5H388.1ZM498.6 427.2H502.7V431.0H498.6ZM457.7 431.0H461.8V434.8H457.7Z"/>
<path fill="#646464" d="M371.7 339.6H375.8V343.4H371.7ZM359.4 343.4H363.5V347.2H359.4ZM343.1 358.6H347.2V362.5H343.1ZM461.8 373.9H465.9V377.7H461.8ZM416.8 408.1H420.8V411.9H416.8ZM388.1 411.9H392.2V415.7H388.1ZM400.4 423.4H404.5V427.2H400.4ZM461.8 423.4H465.9V427.2H461.8ZM457.7 427.2H461.8V431.0H457.7ZM433.1 431.0H441.3V434.8H433.1Z"/>
<path fill="#686868" d="M371.7 313.0H375.8V316.8H371.7ZM478.2 339.6H482.3V343.4H478.2ZM470.0 347.2H474.1V351.0H470.0ZM490.4 354.8H494.5V358.6H490.4ZM314.4 373.9H318.5V377.7H314.4ZM367.6 373.9H371.7V377.7H367.6ZM314.4 377.7H318.5V381.5H314.4ZM363.5 377.7H367.6V381.5H363.5ZM314.4 381.5H318.5V385.3H314.4ZM404.5 381.5H408.6V385.3H404.5ZM367.6 389.1H371.7V392.9H367.6ZM416.8 411.9H420.8V415.7H416.8ZM392.2 427.2H396.3V431.0H392.2ZM437.2 427.2H441.3V431.0H437.2ZM461.8 427.2H465.9V431.0H461.8Z"/>
<path fill="#6c6c6c" d="M318.5 274.9H322.6V278.7H318.5ZM502.7 290.1H506.8V293.9H502.7ZM388.1 293.9H392.2V297.8H388.1ZM437.2 297.8H441.3V301.6H437.2ZM433.1 332.0H437.2V335.8H433.1ZM424.9 339.6H429.0V343.4H424.9ZM441.3 351.0H445.4V354.8H441.3ZM355.3 354.8H359.4V358.6H355.3ZM400.4 381.5H404.5V385.3H400.4ZM474.1 385.3H478.2V389.1H474.1ZM433.1 389.1H437.2V392.9H433.1ZM470.0 389.1H474.1V392.9H470.0ZM433.1 419.5H437.2V423.4H433.1ZM433.1 427.2H437.2V431.0H433.1ZM384.0 431.0H388.1V434.8H384.0Z"/>
<path fill="#707070" d="M424.9 274.9H429.0V278.7H424.9ZM318.5 278.7H322.6V282.5H318.5ZM437.2 293.9H445.4V297.8H437.2ZM470.0 293.9H474.1V297.8H470.0ZM441.3 297.8H445.4V301.6H441.3ZM375.8 301.6H379.9V305.4H375.8ZM343.1 309.2H347.2V313.0H343.1ZM379.9 313.0H384.0V316.8H379.9ZM478.2 335.8H482.3V339.6H478.2ZM441.3 339.6H445.4V343.4H441.3ZM392.2 343.4H396.3V347.2H392.2ZM478.2 343.4H482.3V347.2H478.2ZM367.6 351.0H371.7V354.8H367.6ZM470.0 351.0H474.1V354.8H470.0ZM339.0 362.5H343.1V366.3H339.0ZM388.1 373.9H392.2V377.7H388.1ZM330.8 381.5H334.9V385.3H330.8ZM326.7 385.3H330.8V389.1H326.7ZM478.2 385.3H482.3V389.1H478.2ZM404.5 396.7H408.6V400.5H404.5ZM355.3 400.5H359.4V404.3H355.3ZM416.8 404.3H420.8V408.1H416.8ZM400.4 419.5H408.6V423.4H400.4ZM429.0 419.5H433.1V423.4H429.0ZM457.7 423.4H461.8V427.2H457.7ZM326.7 438.6H330.8V442.4H326.7Z"/>
<path fill="#747474" d="M384.0 263.5H392.2V267.3H384.0ZM404.5 263.5H408.6V267.3H404.5ZM420.8 278.7H424.9V282.5H420.8ZM384.0 293.9H388.1V297.8H384.0ZM465.9 297.8H470.0V301.6H465.9ZM318.5 332.0H322.6V335.8H318.5ZM457.7 332.0H461.8V335.8H457.7ZM326.7 335.8H330.8V339.6H326.7ZM437.2 339.6H441.3V343.4H437.2ZM474.1 339.6H478.2V343.4H474.1ZM367.6 347.2H371.7V351.0H367.6ZM424.9 347.2H429.0V351.0H424.9ZM478.2 347.2H482.3V351.0H478.2ZM490.4 347.2H494.5V351.0H490.4ZM437.2 351.0H441.3V354.8H437.2ZM474.1 351.0H478.2V354.8H474.1ZM482.3 354.8H486.3V358.6H482.3ZM339.0 366.3H343.1V370.1H339.0ZM367.6 385.3H371.7V389.1H367.6ZM433.1 385.3H437.2V389.1H433.1ZM470.0 385.3H474.1V389.1H470.0ZM322.6 389.1H326.7V392.9H322.6ZM371.7 389.1H375.8V392.9H371.7ZM404.5 389.1H408.6V392.9H404.5ZM334.9 392.9H339.0V396.7H334.9ZM384.0 396.7H388.1V400.5H384.0ZM343.1 404.3H347.2V408.1H343.1ZM379.9 404.3H384.0V408.1H379.9ZM379.9 408.1H384.0V411.9H379.9ZM478.2 415.7H482.3V419.5H478.2ZM396.3 419.5H400.4V423.4H396.3ZM478.2 419.5H482.3V423.4H478.2ZM384.0 427.2H388.1V431.0H384.0ZM396.3 427.2H400.4V431.0H396.3ZM453.6 431.0H457.7V434.8H453.6ZM437.2 434.8H441.3V438.6H437.2Z"/>
<path fill="#787878" d="M318.5 263.5H322.6V267.3H318.5ZM367.6 263.5H375.8V267.3H367.6ZM408.6 263.5H412.7V267.3H408.6ZM441.3 274.9H445.4V278.7H441.3ZM371.7 286.3H375.8V290.1H371.7ZM482.3 286.3H486.3V290.1H482.3ZM371.7 290.1H375.8V293.9H371.7ZM441.3 301.6H445.4V305.4H441.3ZM449.5 309.2H453.6V313.0H449.5ZM334.9 313.0H339.0V316.8H334.9ZM384.0 313.0H396.3V316.8H384.0ZM453.6 313.0H457.7V316.8H453.6ZM502.7 313.0H506.8V316.8H502.7ZM379.9 316.8H384.0V320.6H379.9ZM392.2 320.6H396.3V324.4H392.2ZM351.2 324.4H355.3V328.2H351.2ZM465.9 324.4H470.0V328.2H465.9ZM404.5 332.0H408.6V335.8H404.5ZM420.8 332.0H424.9V335.8H420.8ZM441.3 335.8H445.4V339.6H441.3ZM326.7 339.6H330.8V343.4H326.7ZM392.2 339.6H396.3V343.4H392.2ZM424.9 343.4H429.0V347.2H424.9ZM371.7 347.2H375.8V351.0H371.7ZM433.1 347.2H437.2V351.0H433.1ZM465.9 351.0H470.0V354.8H465.9ZM384.0 354.8H388.1V358.6H384.0ZM461.8 354.8H465.9V358.6H461.8ZM334.9 358.6H339.0V362.5H334.9ZM371.7 358.6H375.8V362.5H371.7ZM482.3 358.6H486.3V362.5H482.3ZM371.7 362.5H375.8V366.3H371.7ZM470.0 362.5H474.1V366.3H470.0ZM334.9 366.3H339.0V370.1H334.9ZM343.1 366.3H347.2V370.1H343.1ZM343.1 370.1H347.2V373.9H343.1ZM343.1 373.9H347.2V377.7H343.1ZM457.7 373.9H461.8V377.7H457.7ZM318.5 377.7H322.6V381.5H318.5ZM359.4 377.7H363.5V381.5H359.4ZM314.4 385.3H318.5V389.1H314.4ZM437.2 385.3H441.3V389.1H437.2ZM396.3 389.1H400.4V392.9H396.3ZM408.6 392.9H412.7V396.7H408.6ZM433.1 392.9H437.2V396.7H433.1ZM465.9 392.9H470.0V396.7H465.9ZM322.6 400.5H326.7V404.3H322.6ZM416.8 400.5H420.8V404.3H416.8ZM334.9 411.9H339.0V415.7H334.9ZM347.2 415.7H351.2V419.5H347.2ZM404.5 415.7H408.6V419.5H404.5ZM433.1 415.7H437.2V419.5H433.1ZM441.3 415.7H445.4V419.5H441.3ZM453.6 419.5H457.7V423.4H453.6ZM404.5 423.4H408.6V427.2H404.5ZM441.3 423.4H445.4V427.2H441.3ZM465.9 423.4H470.0V427.2H465.9ZM490.4 423.4H494.5V427.2H490.4ZM429.0 427.2H433.1V431.0H429.0ZM441.3 427.2H445.4V431.0H441.3ZM429.0 431.0H433.1V434.8H429.0ZM326.7 434.8H330.8V438.6H326.7ZM461.8 438.6H465.9V442.4H461.8Z"/>
<path fill="#7c7c7c" d="M494.5 267.3H502.7V271.1H494.5ZM322.6 274.9H326.7V278.7H322.6ZM314.4 278.7H318.5V282.5H314.4ZM322.6 278.7H326.7V282.5H322.6ZM486.3 278.7H490.4V282.5H486.3ZM486.3 282.5H490.4V286.3H486.3ZM486.3 286.3H490.4V290.1H486.3ZM502.7 286.3H506.8V290.1H502.7ZM388.1 297.8H392.2V301.6H388.1ZM437.2 301.6H441.3V305.4H437.2ZM347.2 309.2H351.2V313.0H347.2ZM396.3 309.2H404.5V313.0H396.3ZM396.3 313.0H400.4V316.8H396.3ZM465.9 320.6H470.0V324.4H465.9ZM404.5 328.2H408.6V332.0H404.5ZM498.6 328.2H502.7V332.0H498.6ZM408.6 332.0H412.7V335.8H408.6ZM363.5 335.8H367.6V339.6H363.5ZM424.9 335.8H429.0V339.6H424.9ZM363.5 339.6H367.6V343.4H363.5ZM482.3 339.6H486.3V343.4H482.3ZM433.1 343.4H437.2V347.2H433.1ZM445.4 343.4H449.5V347.2H445.4ZM465.9 347.2H470.0V351.0H465.9ZM343.1 362.5H347.2V366.3H343.1ZM339.0 373.9H343.1V377.7H339.0ZM392.2 373.9H396.3V377.7H392.2ZM412.7 373.9H416.8V377.7H412.7ZM375.8 377.7H379.9V381.5H375.8ZM445.4 377.7H449.5V381.5H445.4ZM490.4 377.7H494.5V381.5H490.4ZM408.6 389.1H412.7V392.9H408.6ZM482.3 389.1H486.3V392.9H482.3ZM371.7 392.9H379.9V396.7H371.7ZM478.2 392.9H482.3V396.7H478.2ZM347.2 411.9H351.2V415.7H347.2ZM359.4 411.9H363.5V415.7H359.4ZM429.0 415.7H433.1V419.5H429.0ZM482.3 415.7H486.3V419.5H482.3ZM392.2 423.4H396.3V427.2H392.2ZM494.5 423.4H502.7V427.2H494.5ZM400.4 427.2H404.5V431.0H400.4ZM359.4 431.0H363.5V434.8H359.4ZM441.3 431.0H445.4V434.8H441.3ZM433.1 434.8H437.2V438.6H433.1Z"/>
<path fill="#808080" d="M375.8 263.5H379.9V267.3H375.8ZM478.2 263.5H482.3V267.3H478.2ZM355.3 271.1H359.4V274.9H355.3ZM375.8 274.9H379.9V278.7H375.8ZM388.1 274.9H392.2V278.7H388.1ZM474.1 278.7H478.2V282.5H474.1ZM433.1 282.5H437.2V286.3H433.1ZM441.3 290.1H445.4V293.9H441.3ZM371.7 293.9H375.8V297.8H371.7ZM375.8 297.8H379.9V301.6H375.8ZM424.9 301.6H429.0V305.4H424.9ZM379.9 305.4H384.0V309.2H379.9ZM441.3 305.4H445.4V309.2H441.3ZM498.6 313.0H502.7V316.8H498.6ZM465.9 316.8H470.0V320.6H465.9ZM494.5 320.6H498.6V324.4H494.5ZM314.4 324.4H318.5V328.2H314.4ZM355.3 324.4H359.4V328.2H355.3ZM326.7 332.0H330.8V335.8H326.7ZM482.3 332.0H486.3V335.8H482.3ZM367.6 335.8H371.7V339.6H367.6ZM420.8 335.8H424.9V339.6H420.8ZM326.7 343.4H330.8V347.2H326.7ZM408.6 347.2H412.7V351.0H408.6ZM437.2 347.2H441.3V351.0H437.2ZM371.7 351.0H375.8V354.8H371.7ZM384.0 351.0H388.1V354.8H384.0ZM445.4 351.0H449.5V354.8H445.4ZM318.5 358.6H322.6V362.5H318.5ZM339.0 358.6H343.1V362.5H339.0ZM375.8 362.5H379.9V366.3H375.8ZM490.4 362.5H494.5V366.3H490.4ZM339.0 370.1H343.1V373.9H339.0ZM318.5 373.9H322.6V377.7H318.5ZM420.8 373.9H424.9V377.7H420.8ZM465.9 373.9H470.0V377.7H465.9ZM367.6 377.7H371.7V381.5H367.6ZM461.8 377.7H465.9V381.5H461.8ZM486.3 377.7H490.4V381.5H486.3ZM334.9 381.5H339.0V385.3H334.9ZM408.6 381.5H412.7V385.3H408.6ZM392.2 385.3H396.3V389.1H392.2ZM498.6 385.3H502.7V389.1H498.6ZM326.7 389.1H330.8V392.9H326.7ZM478.2 389.1H482.3V392.9H478.2ZM412.7 392.9H416.8V396.7H412.7ZM424.9 392.9H429.0V396.7H424.9ZM437.2 392.9H441.3V396.7H437.2ZM322.6 396.7H326.7V400.5H322.6ZM347.2 404.3H351.2V408.1H347.2ZM343.1 408.1H347.2V411.9H343.1ZM363.5 408.1H367.6V411.9H363.5ZM461.8 408.1H465.9V411.9H461.8ZM343.1 411.9H347.2V415.7H343.1ZM351.2 411.9H355.3V415.7H351.2ZM478.2 411.9H482.3V415.7H478.2ZM343.1 415.7H347.2V419.5H343.1ZM351.2 415.7H355.3V419.5H351.2ZM400.4 415.7H404.5V419.5H400.4ZM437.2 419.5H441.3V423.4H437.2ZM457.7 419.5H465.9V423.4H457.7ZM429.0 423.4H433.1V427.2H429.0ZM347.2 427.2H351.2V431.0H347.2ZM502.7 427.2H506.8V431.0H502.7ZM461.8 431.0H465.9V434.8H461.8ZM388.1 434.8H392.2V438.6H388.1ZM482.3 438.6H486.3V442.4H482.3Z"/>
<path fill="#848484" d="M363.5 263.5H367.6V267.3H363.5ZM494.5 263.5H502.7V267.3H494.5ZM388.1 267.3H392.2V271.1H388.1ZM388.1 271.1H392.2V274.9H388.1ZM343.1 274.9H347.2V278.7H343.1ZM375.8 278.7H379.9V282.5H375.8ZM388.1 278.7H392.2V282.5H388.1ZM461.8 278.7H465.9V282.5H461.8ZM490.4 286.3H494.5V290.1H490.4ZM375.8 290.1H379.9V293.9H375.8ZM490.4 290.1H502.7V293.9H490.4ZM314.4 293.9H318.5V297.8H314.4ZM330.8 293.9H334.9V297.8H330.8ZM375.8 293.9H379.9V297.8H375.8ZM502.7 293.9H506.8V297.8H502.7ZM330.8 297.8H334.9V301.6H330.8ZM355.3 297.8H359.4V301.6H355.3ZM498.6 301.6H502.7V305.4H498.6ZM437.2 305.4H441.3V309.2H437.2ZM474.1 305.4H478.2V309.2H474.1ZM379.9 309.2H384.0V313.0H379.9ZM404.5 309.2H408.6V313.0H404.5ZM339.0 313.0H343.1V316.8H339.0ZM351.2 313.0H355.3V316.8H351.2ZM351.2 320.6H355.3V324.4H351.2ZM470.0 320.6H474.1V324.4H470.0ZM314.4 328.2H322.6V332.0H314.4ZM424.9 332.0H429.0V335.8H424.9ZM461.8 332.0H465.9V335.8H461.8ZM318.5 335.8H322.6V339.6H318.5ZM379.9 335.8H384.0V339.6H379.9ZM474.1 335.8H478.2V339.6H474.1ZM433.1 339.6H437.2V343.4H433.1ZM375.8 347.2H379.9V351.0H375.8ZM392.2 347.2H396.3V351.0H392.2ZM486.3 347.2H490.4V351.0H486.3ZM396.3 351.0H400.4V354.8H396.3ZM367.6 354.8H371.7V358.6H367.6ZM396.3 354.8H400.4V358.6H396.3ZM347.2 358.6H351.2V362.5H347.2ZM388.1 358.6H392.2V362.5H388.1ZM420.8 358.6H424.9V362.5H420.8ZM392.2 362.5H396.3V366.3H392.2ZM412.7 362.5H416.8V366.3H412.7ZM474.1 362.5H478.2V366.3H474.1ZM359.4 366.3H363.5V370.1H359.4ZM314.4 370.1H318.5V373.9H314.4ZM334.9 370.1H339.0V373.9H334.9ZM457.7 370.1H461.8V373.9H457.7ZM322.6 373.9H326.7V377.7H322.6ZM396.3 373.9H400.4V377.7H396.3ZM490.4 373.9H494.5V377.7H490.4ZM355.3 377.7H359.4V381.5H355.3ZM371.7 377.7H375.8V381.5H371.7ZM441.3 377.7H445.4V381.5H441.3ZM474.1 377.7H482.3V381.5H474.1ZM494.5 377.7H498.6V381.5H494.5ZM396.3 385.3H400.4V389.1H396.3ZM408.6 385.3H412.7V389.1H408.6ZM494.5 385.3H498.6V389.1H494.5ZM502.7 385.3H506.8V389.1H502.7ZM375.8 389.1H379.9V392.9H375.8ZM424.9 389.1H429.0V392.9H424.9ZM322.6 392.9H326.7V396.7H322.6ZM379.9 392.9H384.0V396.7H379.9ZM470.0 392.9H474.1V396.7H470.0ZM478.2 396.7H482.3V400.5H478.2ZM351.2 404.3H355.3V408.1H351.2ZM392.2 404.3H396.3V408.1H392.2ZM449.5 404.3H453.6V408.1H449.5ZM486.3 404.3H490.4V408.1H486.3ZM326.7 408.1H330.8V411.9H326.7ZM347.2 408.1H351.2V411.9H347.2ZM429.0 408.1H433.1V411.9H429.0ZM371.7 411.9H375.8V415.7H371.7ZM461.8 411.9H465.9V415.7H461.8ZM408.6 415.7H412.7V419.5H408.6ZM424.9 415.7H429.0V419.5H424.9ZM474.1 415.7H478.2V419.5H474.1ZM371.7 419.5H375.8V423.4H371.7ZM392.2 419.5H396.3V423.4H392.2ZM465.9 419.5H470.0V423.4H465.9ZM482.3 419.5H486.3V423.4H482.3ZM502.7 419.5H506.8V423.4H502.7ZM384.0 423.4H388.1V427.2H384.0ZM437.2 423.4H441.3V427.2H437.2ZM478.2 423.4H482.3V427.2H478.2ZM363.5 431.0H367.6V434.8H363.5ZM388.1 431.0H392.2V434.8H388.1ZM318.5 438.6H322.6V442.4H318.5Z"/>
<path fill="#888888" d="M322.6 263.5H326.7V267.3H322.6ZM379.9 263.5H384.0V267.3H379.9ZM482.3 263.5H486.3V267.3H482.3ZM490.4 263.5H494.5V267.3H490.4ZM502.7 267.3H506.8V271.1H502.7ZM351.2 271.1H355.3V274.9H351.2ZM392.2 271.1H396.3V274.9H392.2ZM502.7 271.1H506.8V274.9H502.7ZM347.2 274.9H351.2V278.7H347.2ZM420.8 274.9H424.9V278.7H420.8ZM445.4 274.9H449.5V278.7H445.4ZM392.2 278.7H396.3V282.5H392.2ZM437.2 278.7H441.3V282.5H437.2ZM445.4 278.7H449.5V282.5H445.4ZM470.0 278.7H474.1V282.5H470.0ZM482.3 278.7H486.3V282.5H482.3ZM490.4 278.7H494.5V282.5H490.4ZM392.2 282.5H396.3V286.3H392.2ZM322.6 286.3H326.7V290.1H322.6ZM494.5 286.3H498.6V290.1H494.5ZM326.7 290.1H330.8V293.9H326.7ZM314.4 297.8H322.6V301.6H314.4ZM334.9 297.8H339.0V301.6H334.9ZM359.4 297.8H363.5V301.6H359.4ZM494.5 297.8H498.6V301.6H494.5ZM322.6 301.6H326.7V305.4H322.6ZM392.2 301.6H396.3V305.4H392.2ZM416.8 301.6H420.8V305.4H416.8ZM445.4 301.6H449.5V305.4H445.4ZM486.3 301.6H498.6V305.4H486.3ZM396.3 305.4H400.4V309.2H396.3ZM429.0 305.4H437.2V309.2H429.0ZM445.4 305.4H449.5V309.2H445.4ZM461.8 305.4H465.9V309.2H461.8ZM359.4 309.2H363.5V313.0H359.4ZM445.4 309.2H449.5V313.0H445.4ZM339.0 316.8H343.1V320.6H339.0ZM351.2 316.8H355.3V320.6H351.2ZM375.8 320.6H379.9V324.4H375.8ZM318.5 324.4H322.6V328.2H318.5ZM375.8 324.4H379.9V328.2H375.8ZM461.8 324.4H465.9V328.2H461.8ZM494.5 324.4H498.6V328.2H494.5ZM408.6 328.2H412.7V332.0H408.6ZM441.3 328.2H445.4V332.0H441.3ZM461.8 328.2H465.9V332.0H461.8ZM314.4 332.0H318.5V335.8H314.4ZM379.9 332.0H384.0V335.8H379.9ZM453.6 332.0H457.7V335.8H453.6ZM322.6 335.8H326.7V339.6H322.6ZM359.4 335.8H363.5V339.6H359.4ZM384.0 335.8H388.1V339.6H384.0ZM437.2 335.8H441.3V339.6H437.2ZM449.5 335.8H453.6V339.6H449.5ZM470.0 335.8H474.1V339.6H470.0ZM330.8 343.4H334.9V347.2H330.8ZM437.2 343.4H441.3V347.2H437.2ZM470.0 343.4H474.1V347.2H470.0ZM490.4 343.4H494.5V347.2H490.4ZM326.7 347.2H334.9V351.0H326.7ZM437.2 354.8H441.3V358.6H437.2ZM465.9 354.8H470.0V358.6H465.9ZM367.6 358.6H371.7V362.5H367.6ZM384.0 358.6H388.1V362.5H384.0ZM416.8 358.6H420.8V362.5H416.8ZM371.7 373.9H379.9V377.7H371.7ZM334.9 377.7H339.0V381.5H334.9ZM343.1 377.7H347.2V381.5H343.1ZM351.2 377.7H355.3V381.5H351.2ZM482.3 377.7H486.3V381.5H482.3ZM322.6 381.5H330.8V385.3H322.6ZM474.1 381.5H478.2V385.3H474.1ZM490.4 381.5H494.5V385.3H490.4ZM334.9 385.3H339.0V389.1H334.9ZM404.5 385.3H408.6V389.1H404.5ZM474.1 389.1H478.2V392.9H474.1ZM486.3 389.1H490.4V392.9H486.3ZM367.6 392.9H371.7V396.7H367.6ZM388.1 396.7H392.2V400.5H388.1ZM465.9 396.7H470.0V400.5H465.9ZM343.1 400.5H347.2V404.3H343.1ZM392.2 400.5H396.3V404.3H392.2ZM404.5 400.5H408.6V404.3H404.5ZM433.1 400.5H441.3V404.3H433.1ZM322.6 404.3H326.7V408.1H322.6ZM433.1 404.3H441.3V408.1H433.1ZM445.4 404.3H449.5V408.1H445.4ZM330.8 408.1H334.9V411.9H330.8ZM351.2 408.1H355.3V411.9H351.2ZM359.4 408.1H363.5V411.9H359.4ZM330.8 411.9H334.9V415.7H330.8ZM412.7 411.9H416.8V415.7H412.7ZM424.9 411.9H429.0V415.7H424.9ZM474.1 411.9H478.2V415.7H474.1ZM359.4 415.7H363.5V419.5H359.4ZM367.6 419.5H371.7V423.4H367.6ZM379.9 419.5H384.0V423.4H379.9ZM408.6 419.5H412.7V423.4H408.6ZM359.4 423.4H363.5V427.2H359.4ZM375.8 423.4H379.9V427.2H375.8ZM502.7 423.4H506.8V427.2H502.7ZM375.8 427.2H379.9V431.0H375.8ZM470.0 431.0H474.1V434.8H470.0ZM359.4 434.8H363.5V438.6H359.4ZM392.2 434.8H396.3V438.6H392.2ZM408.6 434.8H412.7V438.6H408.6ZM461.8 434.8H465.9V438.6H461.8ZM457.7 438.6H461.8V442.4H457.7ZM465.9 438.6H470.0V442.4H465.9Z"/>
<path fill="#8c8c8c" d="M351.2 263.5H355.3V267.3H351.2ZM461.8 263.5H465.9V267.3H461.8ZM502.7 263.5H506.8V267.3H502.7ZM363.5 267.3H367.6V271.1H363.5ZM339.0 271.1H343.1V274.9H339.0ZM347.2 271.1H351.2V274.9H347.2ZM371.7 274.9H375.8V278.7H371.7ZM392.2 274.9H396.3V278.7H392.2ZM343.1 278.7H351.2V282.5H343.1ZM424.9 278.7H429.0V282.5H424.9ZM433.1 278.7H437.2V282.5H433.1ZM330.8 282.5H334.9V286.3H330.8ZM412.7 282.5H416.8V286.3H412.7ZM437.2 282.5H441.3V286.3H437.2ZM490.4 282.5H494.5V286.3H490.4ZM326.7 286.3H330.8V290.1H326.7ZM453.6 286.3H461.8V290.1H453.6ZM437.2 290.1H441.3V293.9H437.2ZM482.3 290.1H490.4V293.9H482.3ZM334.9 293.9H339.0V297.8H334.9ZM359.4 293.9H363.5V297.8H359.4ZM379.9 293.9H384.0V297.8H379.9ZM433.1 293.9H437.2V297.8H433.1ZM461.8 293.9H465.9V297.8H461.8ZM494.5 293.9H502.7V297.8H494.5ZM318.5 301.6H322.6V305.4H318.5ZM355.3 301.6H359.4V305.4H355.3ZM347.2 305.4H351.2V309.2H347.2ZM465.9 305.4H470.0V309.2H465.9ZM478.2 305.4H482.3V309.2H478.2ZM486.3 305.4H490.4V309.2H486.3ZM498.6 305.4H502.7V309.2H498.6ZM355.3 309.2H359.4V313.0H355.3ZM433.1 309.2H437.2V313.0H433.1ZM453.6 309.2H457.7V313.0H453.6ZM502.7 309.2H506.8V313.0H502.7ZM330.8 313.0H334.9V316.8H330.8ZM343.1 313.0H351.2V316.8H343.1ZM359.4 313.0H363.5V316.8H359.4ZM404.5 313.0H408.6V316.8H404.5ZM334.9 316.8H339.0V320.6H334.9ZM355.3 316.8H359.4V320.6H355.3ZM375.8 316.8H379.9V320.6H375.8ZM371.7 320.6H375.8V324.4H371.7ZM445.4 320.6H449.5V324.4H445.4ZM482.3 320.6H486.3V324.4H482.3ZM498.6 320.6H502.7V324.4H498.6ZM371.7 324.4H375.8V328.2H371.7ZM404.5 324.4H408.6V328.2H404.5ZM351.2 328.2H359.4V332.0H351.2ZM433.1 328.2H437.2V332.0H433.1ZM502.7 328.2H506.8V332.0H502.7ZM367.6 332.0H371.7V335.8H367.6ZM441.3 332.0H453.6V335.8H441.3ZM486.3 332.0H490.4V335.8H486.3ZM314.4 335.8H318.5V339.6H314.4ZM429.0 335.8H433.1V339.6H429.0ZM486.3 335.8H490.4V339.6H486.3ZM359.4 339.6H363.5V343.4H359.4ZM367.6 339.6H371.7V343.4H367.6ZM384.0 339.6H388.1V343.4H384.0ZM449.5 339.6H453.6V343.4H449.5ZM470.0 339.6H474.1V343.4H470.0ZM334.9 343.4H339.0V347.2H334.9ZM396.3 343.4H400.4V347.2H396.3ZM482.3 343.4H490.4V347.2H482.3ZM363.5 347.2H367.6V351.0H363.5ZM379.9 347.2H384.0V351.0H379.9ZM396.3 347.2H400.4V351.0H396.3ZM441.3 347.2H445.4V351.0H441.3ZM494.5 347.2H498.6V351.0H494.5ZM359.4 351.0H363.5V354.8H359.4ZM449.5 351.0H453.6V354.8H449.5ZM347.2 354.8H351.2V358.6H347.2ZM371.7 354.8H375.8V358.6H371.7ZM470.0 354.8H478.2V358.6H470.0ZM314.4 358.6H318.5V362.5H314.4ZM351.2 358.6H355.3V362.5H351.2ZM396.3 362.5H400.4V366.3H396.3ZM449.5 362.5H453.6V366.3H449.5ZM375.8 366.3H379.9V370.1H375.8ZM396.3 366.3H400.4V370.1H396.3ZM416.8 366.3H420.8V370.1H416.8ZM322.6 370.1H326.7V373.9H322.6ZM461.8 370.1H465.9V373.9H461.8ZM379.9 373.9H388.1V377.7H379.9ZM416.8 373.9H420.8V377.7H416.8ZM424.9 373.9H429.0V377.7H424.9ZM445.4 373.9H449.5V377.7H445.4ZM478.2 373.9H482.3V377.7H478.2ZM330.8 377.7H334.9V381.5H330.8ZM339.0 377.7H343.1V381.5H339.0ZM379.9 377.7H384.0V381.5H379.9ZM465.9 377.7H470.0V381.5H465.9ZM478.2 381.5H482.3V385.3H478.2ZM494.5 381.5H498.6V385.3H494.5ZM429.0 385.3H433.1V389.1H429.0ZM429.0 389.1H433.1V392.9H429.0ZM416.8 392.9H420.8V396.7H416.8ZM482.3 392.9H486.3V396.7H482.3ZM326.7 396.7H330.8V400.5H326.7ZM400.4 396.7H404.5V400.5H400.4ZM408.6 396.7H412.7V400.5H408.6ZM416.8 396.7H420.8V400.5H416.8ZM433.1 396.7H441.3V400.5H433.1ZM339.0 400.5H343.1V404.3H339.0ZM388.1 400.5H392.2V404.3H388.1ZM339.0 404.3H343.1V408.1H339.0ZM429.0 404.3H433.1V408.1H429.0ZM375.8 408.1H379.9V411.9H375.8ZM433.1 408.1H437.2V411.9H433.1ZM465.9 408.1H470.0V411.9H465.9ZM314.4 411.9H318.5V415.7H314.4ZM408.6 411.9H412.7V415.7H408.6ZM429.0 411.9H433.1V415.7H429.0ZM465.9 411.9H470.0V415.7H465.9ZM420.8 415.7H424.9V419.5H420.8ZM453.6 415.7H457.7V419.5H453.6ZM424.9 419.5H429.0V423.4H424.9ZM474.1 419.5H478.2V423.4H474.1ZM408.6 423.4H412.7V427.2H408.6ZM416.8 423.4H420.8V427.2H416.8ZM433.1 423.4H437.2V427.2H433.1ZM470.0 427.2H474.1V431.0H470.0ZM494.5 427.2H498.6V431.0H494.5ZM334.9 431.0H339.0V434.8H334.9ZM502.7 431.0H506.8V434.8H502.7ZM363.5 434.8H367.6V438.6H363.5ZM441.3 434.8H445.4V438.6H441.3ZM314.4 438.6H318.5V442.4H314.4Z"/>
<path fill="#909090" d="M359.4 263.5H363.5V267.3H359.4ZM412.7 263.5H416.8V267.3H412.7ZM486.3 263.5H490.4V267.3H486.3ZM396.3 267.3H400.4V271.1H396.3ZM404.5 267.3H412.7V271.1H404.5ZM420.8 267.3H424.9V271.1H420.8ZM314.4 271.1H318.5V274.9H314.4ZM343.1 271.1H347.2V274.9H343.1ZM420.8 271.1H424.9V274.9H420.8ZM339.0 274.9H343.1V278.7H339.0ZM474.1 274.9H478.2V278.7H474.1ZM330.8 278.7H334.9V282.5H330.8ZM326.7 282.5H330.8V286.3H326.7ZM343.1 282.5H347.2V286.3H343.1ZM449.5 282.5H453.6V286.3H449.5ZM474.1 282.5H482.3V286.3H474.1ZM494.5 282.5H498.6V286.3H494.5ZM367.6 286.3H371.7V290.1H367.6ZM429.0 286.3H433.1V290.1H429.0ZM384.0 290.1H392.2V293.9H384.0ZM445.4 290.1H449.5V293.9H445.4ZM326.7 293.9H330.8V297.8H326.7ZM445.4 293.9H449.5V297.8H445.4ZM457.7 293.9H461.8V297.8H457.7ZM478.2 293.9H486.3V297.8H478.2ZM322.6 297.8H326.7V301.6H322.6ZM371.7 297.8H375.8V301.6H371.7ZM433.1 297.8H437.2V301.6H433.1ZM445.4 297.8H449.5V301.6H445.4ZM461.8 297.8H465.9V301.6H461.8ZM482.3 297.8H490.4V301.6H482.3ZM478.2 301.6H486.3V305.4H478.2ZM318.5 305.4H322.6V309.2H318.5ZM351.2 305.4H355.3V309.2H351.2ZM400.4 305.4H404.5V309.2H400.4ZM470.0 305.4H474.1V309.2H470.0ZM351.2 309.2H355.3V313.0H351.2ZM498.6 309.2H502.7V313.0H498.6ZM375.8 313.0H379.9V316.8H375.8ZM404.5 316.8H408.6V320.6H404.5ZM449.5 316.8H453.6V320.6H449.5ZM494.5 316.8H502.7V320.6H494.5ZM355.3 320.6H359.4V324.4H355.3ZM404.5 320.6H408.6V324.4H404.5ZM326.7 324.4H330.8V328.2H326.7ZM437.2 328.2H441.3V332.0H437.2ZM322.6 332.0H326.7V335.8H322.6ZM457.7 335.8H461.8V339.6H457.7ZM465.9 335.8H470.0V339.6H465.9ZM322.6 339.6H326.7V343.4H322.6ZM388.1 339.6H392.2V343.4H388.1ZM375.8 343.4H379.9V347.2H375.8ZM334.9 347.2H339.0V351.0H334.9ZM433.1 351.0H437.2V354.8H433.1ZM478.2 351.0H482.3V354.8H478.2ZM330.8 354.8H334.9V358.6H330.8ZM351.2 354.8H355.3V358.6H351.2ZM330.8 358.6H334.9V362.5H330.8ZM392.2 358.6H396.3V362.5H392.2ZM318.5 362.5H322.6V366.3H318.5ZM367.6 362.5H371.7V366.3H367.6ZM400.4 362.5H404.5V366.3H400.4ZM388.1 377.7H396.3V381.5H388.1ZM412.7 377.7H424.9V381.5H412.7ZM396.3 381.5H400.4V385.3H396.3ZM412.7 381.5H416.8V385.3H412.7ZM486.3 381.5H490.4V385.3H486.3ZM371.7 385.3H375.8V389.1H371.7ZM388.1 385.3H392.2V389.1H388.1ZM412.7 389.1H416.8V392.9H412.7ZM502.7 389.1H506.8V392.9H502.7ZM326.7 392.9H330.8V396.7H326.7ZM486.3 392.9H490.4V396.7H486.3ZM470.0 396.7H474.1V400.5H470.0ZM384.0 400.5H388.1V404.3H384.0ZM441.3 400.5H453.6V404.3H441.3ZM326.7 404.3H330.8V408.1H326.7ZM363.5 404.3H367.6V408.1H363.5ZM375.8 404.3H379.9V408.1H375.8ZM396.3 404.3H400.4V408.1H396.3ZM367.6 408.1H371.7V411.9H367.6ZM424.9 408.1H429.0V411.9H424.9ZM449.5 408.1H453.6V411.9H449.5ZM318.5 411.9H322.6V415.7H318.5ZM375.8 411.9H384.0V415.7H375.8ZM420.8 411.9H424.9V415.7H420.8ZM318.5 415.7H322.6V419.5H318.5ZM437.2 415.7H441.3V419.5H437.2ZM486.3 415.7H490.4V419.5H486.3ZM502.7 415.7H506.8V419.5H502.7ZM359.4 419.5H363.5V423.4H359.4ZM375.8 419.5H379.9V423.4H375.8ZM420.8 419.5H424.9V423.4H420.8ZM351.2 423.4H355.3V427.2H351.2ZM420.8 423.4H424.9V427.2H420.8ZM474.1 423.4H478.2V427.2H474.1ZM424.9 427.2H429.0V431.0H424.9ZM453.6 427.2H457.7V431.0H453.6ZM314.4 431.0H318.5V434.8H314.4ZM392.2 431.0H396.3V434.8H392.2ZM408.6 431.0H412.7V434.8H408.6ZM424.9 431.0H429.0V434.8H424.9ZM486.3 431.0H490.4V434.8H486.3ZM498.6 431.0H502.7V434.8H498.6ZM318.5 434.8H322.6V438.6H318.5ZM384.0 434.8H388.1V438.6H384.0ZM449.5 434.8H461.8V438.6H449.5ZM478.2 434.8H486.3V438.6H478.2ZM363.5 438.6H367.6V442.4H363.5ZM408.6 438.6H412.7V442.4H408.6ZM449.5 438.6H457.7V442.4H449.5Z"/>
<path fill="#949494" d="M420.8 263.5H424.9V267.3H420.8ZM347.2 267.3H351.2V271.1H347.2ZM355.3 267.3H359.4V271.1H355.3ZM392.2 267.3H396.3V271.1H392.2ZM478.2 267.3H482.3V271.1H478.2ZM318.5 271.1H322.6V274.9H318.5ZM359.4 271.1H363.5V274.9H359.4ZM396.3 271.1H400.4V274.9H396.3ZM408.6 271.1H412.7V274.9H408.6ZM461.8 274.9H465.9V278.7H461.8ZM470.0 274.9H474.1V278.7H470.0ZM326.7 278.7H330.8V282.5H326.7ZM371.7 278.7H375.8V282.5H371.7ZM478.2 278.7H482.3V282.5H478.2ZM388.1 282.5H392.2V286.3H388.1ZM424.9 282.5H433.1V286.3H424.9ZM339.0 286.3H347.2V290.1H339.0ZM424.9 286.3H429.0V290.1H424.9ZM433.1 286.3H441.3V290.1H433.1ZM478.2 286.3H482.3V290.1H478.2ZM457.7 290.1H461.8V293.9H457.7ZM478.2 290.1H482.3V293.9H478.2ZM318.5 293.9H326.7V297.8H318.5ZM351.2 293.9H355.3V297.8H351.2ZM326.7 297.8H330.8V301.6H326.7ZM478.2 297.8H482.3V301.6H478.2ZM498.6 297.8H502.7V301.6H498.6ZM474.1 301.6H478.2V305.4H474.1ZM322.6 305.4H326.7V309.2H322.6ZM343.1 305.4H347.2V309.2H343.1ZM355.3 305.4H359.4V309.2H355.3ZM375.8 305.4H379.9V309.2H375.8ZM404.5 305.4H408.6V309.2H404.5ZM424.9 305.4H429.0V309.2H424.9ZM449.5 305.4H453.6V309.2H449.5ZM482.3 305.4H486.3V309.2H482.3ZM375.8 309.2H379.9V313.0H375.8ZM437.2 309.2H441.3V313.0H437.2ZM461.8 309.2H465.9V313.0H461.8ZM400.4 313.0H404.5V316.8H400.4ZM457.7 313.0H461.8V316.8H457.7ZM326.7 316.8H334.9V320.6H326.7ZM343.1 316.8H347.2V320.6H343.1ZM429.0 316.8H433.1V320.6H429.0ZM453.6 316.8H457.7V320.6H453.6ZM461.8 316.8H465.9V320.6H461.8ZM470.0 316.8H474.1V320.6H470.0ZM347.2 320.6H351.2V324.4H347.2ZM367.6 320.6H371.7V324.4H367.6ZM400.4 320.6H404.5V324.4H400.4ZM429.0 320.6H433.1V324.4H429.0ZM461.8 320.6H465.9V324.4H461.8ZM490.4 320.6H494.5V324.4H490.4ZM322.6 324.4H326.7V328.2H322.6ZM347.2 324.4H351.2V328.2H347.2ZM367.6 324.4H371.7V328.2H367.6ZM392.2 324.4H396.3V328.2H392.2ZM400.4 324.4H404.5V328.2H400.4ZM433.1 324.4H437.2V328.2H433.1ZM445.4 324.4H449.5V328.2H445.4ZM367.6 328.2H371.7V332.0H367.6ZM339.0 332.0H343.1V335.8H339.0ZM392.2 332.0H396.3V335.8H392.2ZM437.2 332.0H441.3V335.8H437.2ZM388.1 335.8H392.2V339.6H388.1ZM453.6 335.8H457.7V339.6H453.6ZM351.2 339.6H355.3V343.4H351.2ZM379.9 339.6H384.0V343.4H379.9ZM400.4 339.6H404.5V343.4H400.4ZM429.0 339.6H433.1V343.4H429.0ZM486.3 339.6H490.4V343.4H486.3ZM367.6 343.4H375.8V347.2H367.6ZM388.1 343.4H392.2V347.2H388.1ZM465.9 343.4H470.0V347.2H465.9ZM384.0 347.2H388.1V351.0H384.0ZM412.7 347.2H416.8V351.0H412.7ZM429.0 347.2H433.1V351.0H429.0ZM445.4 347.2H453.6V351.0H445.4ZM461.8 347.2H465.9V351.0H461.8ZM355.3 351.0H359.4V354.8H355.3ZM412.7 351.0H416.8V354.8H412.7ZM461.8 351.0H465.9V354.8H461.8ZM486.3 351.0H490.4V354.8H486.3ZM363.5 354.8H367.6V358.6H363.5ZM379.9 354.8H384.0V358.6H379.9ZM375.8 358.6H379.9V362.5H375.8ZM412.7 358.6H416.8V362.5H412.7ZM322.6 362.5H326.7V366.3H322.6ZM388.1 362.5H392.2V366.3H388.1ZM408.6 362.5H412.7V366.3H408.6ZM322.6 366.3H326.7V370.1H322.6ZM392.2 366.3H396.3V370.1H392.2ZM400.4 366.3H404.5V370.1H400.4ZM318.5 370.1H322.6V373.9H318.5ZM359.4 370.1H363.5V373.9H359.4ZM424.9 370.1H429.0V373.9H424.9ZM478.2 370.1H482.3V373.9H478.2ZM359.4 373.9H367.6V377.7H359.4ZM408.6 373.9H412.7V377.7H408.6ZM474.1 373.9H478.2V377.7H474.1ZM486.3 373.9H490.4V377.7H486.3ZM347.2 377.7H351.2V381.5H347.2ZM384.0 377.7H388.1V381.5H384.0ZM400.4 377.7H404.5V381.5H400.4ZM408.6 377.7H412.7V381.5H408.6ZM449.5 377.7H453.6V381.5H449.5ZM457.7 377.7H461.8V381.5H457.7ZM498.6 377.7H502.7V381.5H498.6ZM339.0 381.5H343.1V385.3H339.0ZM388.1 381.5H392.2V385.3H388.1ZM482.3 381.5H486.3V385.3H482.3ZM363.5 385.3H367.6V389.1H363.5ZM400.4 385.3H404.5V389.1H400.4ZM318.5 392.9H322.6V396.7H318.5ZM384.0 392.9H388.1V396.7H384.0ZM396.3 392.9H400.4V396.7H396.3ZM429.0 392.9H433.1V396.7H429.0ZM343.1 396.7H347.2V400.5H343.1ZM371.7 396.7H375.8V400.5H371.7ZM412.7 396.7H416.8V400.5H412.7ZM441.3 396.7H445.4V400.5H441.3ZM326.7 400.5H330.8V404.3H326.7ZM379.9 400.5H384.0V404.3H379.9ZM453.6 400.5H457.7V404.3H453.6ZM490.4 400.5H494.5V404.3H490.4ZM359.4 404.3H363.5V408.1H359.4ZM404.5 404.3H408.6V408.1H404.5ZM441.3 404.3H445.4V408.1H441.3ZM408.6 408.1H412.7V411.9H408.6ZM457.7 408.1H461.8V411.9H457.7ZM363.5 411.9H367.6V415.7H363.5ZM433.1 411.9H437.2V415.7H433.1ZM457.7 411.9H461.8V415.7H457.7ZM470.0 411.9H474.1V415.7H470.0ZM314.4 415.7H318.5V419.5H314.4ZM379.9 415.7H384.0V419.5H379.9ZM457.7 415.7H461.8V419.5H457.7ZM465.9 415.7H470.0V419.5H465.9ZM412.7 419.5H420.8V423.4H412.7ZM449.5 419.5H453.6V423.4H449.5ZM412.7 423.4H416.8V427.2H412.7ZM424.9 423.4H429.0V427.2H424.9ZM445.4 423.4H449.5V427.2H445.4ZM330.8 427.2H334.9V431.0H330.8ZM404.5 427.2H412.7V431.0H404.5ZM445.4 427.2H449.5V431.0H445.4ZM474.1 427.2H478.2V431.0H474.1ZM330.8 431.0H334.9V434.8H330.8ZM339.0 431.0H343.1V434.8H339.0ZM396.3 431.0H400.4V434.8H396.3ZM465.9 431.0H470.0V434.8H465.9ZM412.7 434.8H416.8V438.6H412.7ZM445.4 434.8H449.5V438.6H445.4ZM465.9 434.8H470.0V438.6H465.9ZM322.6 438.6H326.7V442.4H322.6ZM412.7 438.6H416.8V442.4H412.7ZM478.2 438.6H482.3V442.4H478.2Z"/>
<path fill="#989898" d="M347.2 263.5H351.2V267.3H347.2ZM355.3 263.5H359.4V267.3H355.3ZM437.2 263.5H441.3V267.3H437.2ZM474.1 263.5H478.2V267.3H474.1ZM314.4 267.3H318.5V271.1H314.4ZM375.8 267.3H379.9V271.1H375.8ZM322.6 271.1H326.7V274.9H322.6ZM498.6 271.1H502.7V274.9H498.6ZM486.3 274.9H490.4V278.7H486.3ZM334.9 278.7H339.0V282.5H334.9ZM379.9 278.7H384.0V282.5H379.9ZM441.3 278.7H445.4V282.5H441.3ZM465.9 278.7H470.0V282.5H465.9ZM322.6 282.5H326.7V286.3H322.6ZM392.2 286.3H396.3V290.1H392.2ZM498.6 286.3H502.7V290.1H498.6ZM429.0 290.1H433.1V293.9H429.0ZM429.0 293.9H433.1V297.8H429.0ZM474.1 293.9H478.2V297.8H474.1ZM490.4 293.9H494.5V297.8H490.4ZM490.4 297.8H494.5V301.6H490.4ZM326.7 301.6H330.8V305.4H326.7ZM339.0 301.6H343.1V305.4H339.0ZM351.2 301.6H355.3V305.4H351.2ZM359.4 301.6H363.5V305.4H359.4ZM433.1 301.6H437.2V305.4H433.1ZM457.7 301.6H461.8V305.4H457.7ZM314.4 305.4H318.5V309.2H314.4ZM359.4 305.4H363.5V309.2H359.4ZM314.4 309.2H318.5V313.0H314.4ZM388.1 309.2H392.2V313.0H388.1ZM429.0 309.2H433.1V313.0H429.0ZM441.3 309.2H445.4V313.0H441.3ZM465.9 309.2H470.0V313.0H465.9ZM474.1 309.2H482.3V313.0H474.1ZM326.7 313.0H330.8V316.8H326.7ZM433.1 313.0H441.3V316.8H433.1ZM461.8 313.0H465.9V316.8H461.8ZM347.2 316.8H351.2V320.6H347.2ZM367.6 316.8H371.7V320.6H367.6ZM445.4 316.8H449.5V320.6H445.4ZM482.3 316.8H486.3V320.6H482.3ZM314.4 320.6H318.5V324.4H314.4ZM322.6 320.6H330.8V324.4H322.6ZM433.1 320.6H437.2V324.4H433.1ZM441.3 324.4H445.4V328.2H441.3ZM482.3 324.4H486.3V328.2H482.3ZM502.7 324.4H506.8V328.2H502.7ZM322.6 328.2H326.7V332.0H322.6ZM392.2 328.2H396.3V332.0H392.2ZM445.4 328.2H449.5V332.0H445.4ZM453.6 328.2H457.7V332.0H453.6ZM482.3 328.2H486.3V332.0H482.3ZM359.4 332.0H367.6V335.8H359.4ZM412.7 332.0H416.8V335.8H412.7ZM429.0 332.0H433.1V335.8H429.0ZM355.3 335.8H359.4V339.6H355.3ZM392.2 335.8H396.3V339.6H392.2ZM433.1 335.8H437.2V339.6H433.1ZM379.9 343.4H384.0V347.2H379.9ZM441.3 343.4H445.4V347.2H441.3ZM461.8 343.4H465.9V347.2H461.8ZM326.7 351.0H334.9V354.8H326.7ZM392.2 351.0H396.3V354.8H392.2ZM498.6 351.0H502.7V354.8H498.6ZM334.9 354.8H339.0V358.6H334.9ZM388.1 354.8H392.2V358.6H388.1ZM396.3 358.6H412.7V362.5H396.3ZM449.5 358.6H453.6V362.5H449.5ZM474.1 358.6H478.2V362.5H474.1ZM330.8 362.5H334.9V366.3H330.8ZM404.5 362.5H408.6V366.3H404.5ZM453.6 362.5H457.7V366.3H453.6ZM461.8 362.5H465.9V366.3H461.8ZM498.6 362.5H502.7V366.3H498.6ZM371.7 366.3H375.8V370.1H371.7ZM457.7 366.3H461.8V370.1H457.7ZM474.1 366.3H478.2V370.1H474.1ZM375.8 370.1H379.9V373.9H375.8ZM388.1 370.1H392.2V373.9H388.1ZM420.8 370.1H424.9V373.9H420.8ZM482.3 370.1H486.3V373.9H482.3ZM453.6 373.9H457.7V377.7H453.6ZM482.3 373.9H486.3V377.7H482.3ZM424.9 377.7H429.0V381.5H424.9ZM470.0 377.7H474.1V381.5H470.0ZM351.2 381.5H359.4V385.3H351.2ZM392.2 381.5H396.3V385.3H392.2ZM424.9 381.5H429.0V385.3H424.9ZM441.3 381.5H445.4V385.3H441.3ZM490.4 385.3H494.5V389.1H490.4ZM314.4 389.1H318.5V392.9H314.4ZM388.1 389.1H392.2V392.9H388.1ZM461.8 389.1H465.9V392.9H461.8ZM314.4 392.9H318.5V396.7H314.4ZM330.8 392.9H334.9V396.7H330.8ZM343.1 392.9H347.2V396.7H343.1ZM367.6 396.7H371.7V400.5H367.6ZM445.4 396.7H449.5V400.5H445.4ZM461.8 396.7H465.9V400.5H461.8ZM347.2 400.5H351.2V404.3H347.2ZM359.4 400.5H363.5V404.3H359.4ZM396.3 400.5H404.5V404.3H396.3ZM429.0 400.5H433.1V404.3H429.0ZM424.9 404.3H429.0V408.1H424.9ZM453.6 404.3H457.7V408.1H453.6ZM482.3 404.3H486.3V408.1H482.3ZM334.9 408.1H343.1V411.9H334.9ZM445.4 408.1H449.5V411.9H445.4ZM470.0 408.1H474.1V411.9H470.0ZM355.3 411.9H359.4V415.7H355.3ZM367.6 411.9H371.7V415.7H367.6ZM355.3 415.7H359.4V419.5H355.3ZM375.8 415.7H379.9V419.5H375.8ZM396.3 415.7H400.4V419.5H396.3ZM461.8 415.7H465.9V419.5H461.8ZM470.0 415.7H474.1V419.5H470.0ZM326.7 419.5H330.8V423.4H326.7ZM445.4 419.5H449.5V423.4H445.4ZM470.0 419.5H474.1V423.4H470.0ZM355.3 423.4H359.4V427.2H355.3ZM371.7 423.4H375.8V427.2H371.7ZM470.0 423.4H474.1V427.2H470.0ZM318.5 427.2H322.6V431.0H318.5ZM343.1 427.2H347.2V431.0H343.1ZM355.3 427.2H359.4V431.0H355.3ZM478.2 427.2H482.3V431.0H478.2ZM445.4 431.0H449.5V434.8H445.4ZM490.4 431.0H494.5V434.8H490.4ZM404.5 434.8H408.6V438.6H404.5ZM474.1 434.8H478.2V438.6H474.1ZM355.3 438.6H363.5V442.4H355.3ZM494.5 438.6H498.6V442.4H494.5Z"/>
<path fill="#9c9c9c" d="M314.4 263.5H318.5V267.3H314.4ZM326.7 263.5H330.8V267.3H326.7ZM392.2 263.5H396.3V267.3H392.2ZM318.5 267.3H326.7V271.1H318.5ZM339.0 267.3H343.1V271.1H339.0ZM384.0 267.3H388.1V271.1H384.0ZM424.9 267.3H429.0V271.1H424.9ZM474.1 267.3H478.2V271.1H474.1ZM490.4 267.3H494.5V271.1H490.4ZM404.5 271.1H408.6V274.9H404.5ZM494.5 271.1H498.6V274.9H494.5ZM359.4 274.9H363.5V278.7H359.4ZM404.5 274.9H408.6V278.7H404.5ZM437.2 274.9H441.3V278.7H437.2ZM465.9 274.9H470.0V278.7H465.9ZM339.0 278.7H343.1V282.5H339.0ZM384.0 278.7H388.1V282.5H384.0ZM494.5 278.7H498.6V282.5H494.5ZM314.4 282.5H322.6V286.3H314.4ZM396.3 282.5H400.4V286.3H396.3ZM379.9 286.3H384.0V290.1H379.9ZM388.1 286.3H392.2V290.1H388.1ZM449.5 286.3H453.6V290.1H449.5ZM474.1 286.3H478.2V290.1H474.1ZM379.9 290.1H384.0V293.9H379.9ZM392.2 290.1H400.4V293.9H392.2ZM433.1 290.1H437.2V293.9H433.1ZM474.1 290.1H478.2V293.9H474.1ZM486.3 293.9H490.4V297.8H486.3ZM339.0 297.8H343.1V301.6H339.0ZM457.7 297.8H461.8V301.6H457.7ZM314.4 301.6H318.5V305.4H314.4ZM400.4 301.6H404.5V305.4H400.4ZM388.1 305.4H392.2V309.2H388.1ZM457.7 305.4H461.8V309.2H457.7ZM494.5 305.4H498.6V309.2H494.5ZM363.5 309.2H367.6V313.0H363.5ZM384.0 309.2H388.1V313.0H384.0ZM408.6 309.2H412.7V313.0H408.6ZM457.7 309.2H461.8V313.0H457.7ZM482.3 309.2H490.4V313.0H482.3ZM363.5 313.0H371.7V316.8H363.5ZM371.7 316.8H375.8V320.6H371.7ZM400.4 316.8H404.5V320.6H400.4ZM424.9 316.8H429.0V320.6H424.9ZM433.1 316.8H437.2V320.6H433.1ZM457.7 316.8H461.8V320.6H457.7ZM486.3 316.8H490.4V320.6H486.3ZM502.7 316.8H506.8V320.6H502.7ZM343.1 320.6H347.2V324.4H343.1ZM449.5 320.6H453.6V324.4H449.5ZM486.3 324.4H490.4V328.2H486.3ZM326.7 328.2H330.8V332.0H326.7ZM343.1 328.2H351.2V332.0H343.1ZM420.8 328.2H424.9V332.0H420.8ZM449.5 328.2H453.6V332.0H449.5ZM457.7 328.2H461.8V332.0H457.7ZM494.5 328.2H498.6V332.0H494.5ZM351.2 332.0H359.4V335.8H351.2ZM384.0 332.0H388.1V335.8H384.0ZM330.8 339.6H334.9V343.4H330.8ZM355.3 339.6H359.4V343.4H355.3ZM453.6 339.6H465.9V343.4H453.6ZM322.6 343.4H326.7V347.2H322.6ZM339.0 343.4H343.1V347.2H339.0ZM363.5 343.4H367.6V347.2H363.5ZM339.0 347.2H343.1V351.0H339.0ZM355.3 347.2H359.4V351.0H355.3ZM388.1 347.2H392.2V351.0H388.1ZM416.8 347.2H420.8V351.0H416.8ZM347.2 351.0H355.3V354.8H347.2ZM375.8 351.0H379.9V354.8H375.8ZM416.8 351.0H420.8V354.8H416.8ZM318.5 354.8H322.6V358.6H318.5ZM339.0 354.8H347.2V358.6H339.0ZM359.4 354.8H363.5V358.6H359.4ZM400.4 354.8H404.5V358.6H400.4ZM412.7 354.8H420.8V358.6H412.7ZM478.2 354.8H482.3V358.6H478.2ZM379.9 358.6H384.0V362.5H379.9ZM437.2 358.6H441.3V362.5H437.2ZM461.8 358.6H465.9V362.5H461.8ZM465.9 362.5H470.0V366.3H465.9ZM330.8 366.3H334.9V370.1H330.8ZM420.8 366.3H424.9V370.1H420.8ZM461.8 366.3H465.9V370.1H461.8ZM326.7 370.1H330.8V373.9H326.7ZM371.7 370.1H375.8V373.9H371.7ZM453.6 370.1H457.7V373.9H453.6ZM490.4 370.1H494.5V373.9H490.4ZM326.7 373.9H330.8V377.7H326.7ZM502.7 373.9H506.8V377.7H502.7ZM371.7 381.5H379.9V385.3H371.7ZM420.8 381.5H424.9V385.3H420.8ZM502.7 381.5H506.8V385.3H502.7ZM359.4 385.3H363.5V389.1H359.4ZM453.6 385.3H457.7V389.1H453.6ZM482.3 385.3H486.3V389.1H482.3ZM334.9 389.1H339.0V392.9H334.9ZM343.1 389.1H347.2V392.9H343.1ZM355.3 389.1H359.4V392.9H355.3ZM445.4 392.9H449.5V396.7H445.4ZM339.0 396.7H343.1V400.5H339.0ZM363.5 396.7H367.6V400.5H363.5ZM392.2 396.7H396.3V400.5H392.2ZM420.8 396.7H424.9V400.5H420.8ZM449.5 396.7H457.7V400.5H449.5ZM375.8 400.5H379.9V404.3H375.8ZM318.5 404.3H322.6V408.1H318.5ZM371.7 404.3H375.8V408.1H371.7ZM384.0 404.3H392.2V408.1H384.0ZM470.0 404.3H474.1V408.1H470.0ZM322.6 408.1H326.7V411.9H322.6ZM384.0 408.1H388.1V411.9H384.0ZM396.3 408.1H400.4V411.9H396.3ZM420.8 408.1H424.9V411.9H420.8ZM453.6 408.1H457.7V411.9H453.6ZM478.2 408.1H482.3V411.9H478.2ZM326.7 411.9H330.8V415.7H326.7ZM453.6 411.9H457.7V415.7H453.6ZM322.6 415.7H326.7V419.5H322.6ZM412.7 415.7H416.8V419.5H412.7ZM314.4 419.5H318.5V423.4H314.4ZM355.3 419.5H359.4V423.4H355.3ZM347.2 423.4H351.2V427.2H347.2ZM449.5 423.4H453.6V427.2H449.5ZM314.4 427.2H318.5V431.0H314.4ZM482.3 427.2H494.5V431.0H482.3ZM326.7 431.0H330.8V434.8H326.7ZM412.7 431.0H416.8V434.8H412.7ZM494.5 431.0H498.6V434.8H494.5ZM367.6 438.6H371.7V442.4H367.6ZM441.3 438.6H445.4V442.4H441.3Z"/>
<path fill="#a0a0a0" d="M433.1 263.5H437.2V267.3H433.1ZM465.9 263.5H470.0V267.3H465.9ZM359.4 267.3H363.5V271.1H359.4ZM412.7 267.3H416.8V271.1H412.7ZM437.2 267.3H441.3V271.1H437.2ZM465.9 267.3H470.0V271.1H465.9ZM363.5 271.1H367.6V274.9H363.5ZM416.8 271.1H420.8V274.9H416.8ZM429.0 271.1H433.1V274.9H429.0ZM474.1 271.1H478.2V274.9H474.1ZM351.2 274.9H355.3V278.7H351.2ZM384.0 274.9H388.1V278.7H384.0ZM478.2 274.9H486.3V278.7H478.2ZM412.7 278.7H416.8V282.5H412.7ZM429.0 278.7H433.1V282.5H429.0ZM334.9 282.5H343.1V286.3H334.9ZM347.2 282.5H351.2V286.3H347.2ZM375.8 282.5H384.0V286.3H375.8ZM461.8 282.5H465.9V286.3H461.8ZM470.0 282.5H474.1V286.3H470.0ZM318.5 286.3H322.6V290.1H318.5ZM384.0 286.3H388.1V290.1H384.0ZM396.3 286.3H400.4V290.1H396.3ZM416.8 286.3H420.8V290.1H416.8ZM441.3 286.3H445.4V290.1H441.3ZM322.6 290.1H326.7V293.9H322.6ZM367.6 290.1H371.7V293.9H367.6ZM465.9 293.9H470.0V297.8H465.9ZM474.1 297.8H478.2V301.6H474.1ZM334.9 301.6H339.0V305.4H334.9ZM388.1 301.6H392.2V305.4H388.1ZM404.5 301.6H408.6V305.4H404.5ZM470.0 301.6H474.1V305.4H470.0ZM408.6 305.4H412.7V309.2H408.6ZM470.0 309.2H474.1V313.0H470.0ZM408.6 313.0H412.7V316.8H408.6ZM441.3 313.0H445.4V316.8H441.3ZM465.9 313.0H470.0V316.8H465.9ZM318.5 320.6H322.6V324.4H318.5ZM339.0 320.6H343.1V324.4H339.0ZM363.5 320.6H367.6V324.4H363.5ZM502.7 320.6H506.8V324.4H502.7ZM330.8 324.4H334.9V328.2H330.8ZM363.5 324.4H367.6V328.2H363.5ZM408.6 324.4H412.7V328.2H408.6ZM429.0 324.4H433.1V328.2H429.0ZM457.7 324.4H461.8V328.2H457.7ZM339.0 328.2H343.1V332.0H339.0ZM416.8 328.2H420.8V332.0H416.8ZM429.0 328.2H433.1V332.0H429.0ZM486.3 328.2H490.4V332.0H486.3ZM343.1 332.0H347.2V335.8H343.1ZM388.1 332.0H392.2V335.8H388.1ZM416.8 339.6H420.8V343.4H416.8ZM490.4 339.6H494.5V343.4H490.4ZM351.2 343.4H355.3V347.2H351.2ZM416.8 343.4H420.8V347.2H416.8ZM449.5 343.4H453.6V347.2H449.5ZM494.5 343.4H498.6V347.2H494.5ZM322.6 347.2H326.7V351.0H322.6ZM351.2 347.2H355.3V351.0H351.2ZM363.5 351.0H367.6V354.8H363.5ZM429.0 351.0H433.1V354.8H429.0ZM453.6 351.0H457.7V354.8H453.6ZM314.4 354.8H318.5V358.6H314.4ZM326.7 354.8H330.8V358.6H326.7ZM375.8 354.8H379.9V358.6H375.8ZM486.3 354.8H490.4V358.6H486.3ZM322.6 358.6H326.7V362.5H322.6ZM355.3 358.6H359.4V362.5H355.3ZM314.4 362.5H318.5V366.3H314.4ZM359.4 362.5H363.5V366.3H359.4ZM457.7 362.5H461.8V366.3H457.7ZM445.4 366.3H453.6V370.1H445.4ZM330.8 370.1H334.9V373.9H330.8ZM400.4 370.1H404.5V373.9H400.4ZM330.8 373.9H334.9V377.7H330.8ZM449.5 373.9H453.6V377.7H449.5ZM326.7 377.7H330.8V381.5H326.7ZM502.7 377.7H506.8V381.5H502.7ZM363.5 381.5H367.6V385.3H363.5ZM445.4 381.5H453.6V385.3H445.4ZM470.0 381.5H474.1V385.3H470.0ZM498.6 381.5H502.7V385.3H498.6ZM351.2 385.3H355.3V389.1H351.2ZM412.7 385.3H416.8V389.1H412.7ZM424.9 385.3H429.0V389.1H424.9ZM441.3 385.3H445.4V389.1H441.3ZM449.5 385.3H453.6V389.1H449.5ZM339.0 389.1H343.1V392.9H339.0ZM351.2 389.1H355.3V392.9H351.2ZM379.9 389.1H384.0V392.9H379.9ZM339.0 392.9H343.1V396.7H339.0ZM363.5 392.9H367.6V396.7H363.5ZM474.1 392.9H478.2V396.7H474.1ZM347.2 396.7H351.2V400.5H347.2ZM429.0 396.7H433.1V400.5H429.0ZM482.3 400.5H490.4V404.3H482.3ZM334.9 404.3H339.0V408.1H334.9ZM367.6 404.3H371.7V408.1H367.6ZM400.4 404.3H404.5V408.1H400.4ZM420.8 404.3H424.9V408.1H420.8ZM392.2 408.1H396.3V411.9H392.2ZM441.3 408.1H445.4V411.9H441.3ZM322.6 411.9H326.7V415.7H322.6ZM437.2 411.9H441.3V415.7H437.2ZM363.5 415.7H367.6V419.5H363.5ZM384.0 415.7H388.1V419.5H384.0ZM416.8 415.7H420.8V419.5H416.8ZM322.6 419.5H326.7V423.4H322.6ZM347.2 419.5H355.3V423.4H347.2ZM486.3 419.5H490.4V423.4H486.3ZM314.4 423.4H318.5V427.2H314.4ZM343.1 423.4H347.2V427.2H343.1ZM388.1 423.4H392.2V427.2H388.1ZM322.6 427.2H330.8V431.0H322.6ZM351.2 427.2H355.3V431.0H351.2ZM420.8 427.2H424.9V431.0H420.8ZM375.8 431.0H379.9V434.8H375.8ZM400.4 431.0H404.5V434.8H400.4ZM334.9 434.8H339.0V438.6H334.9ZM379.9 434.8H384.0V438.6H379.9ZM396.3 434.8H404.5V438.6H396.3ZM429.0 434.8H433.1V438.6H429.0ZM470.0 434.8H474.1V438.6H470.0ZM498.6 434.8H502.7V438.6H498.6ZM388.1 438.6H392.2V442.4H388.1ZM416.8 438.6H420.8V442.4H416.8ZM498.6 438.6H506.8V442.4H498.6Z"/>
<path fill="#a4a4a4" d="M334.9 267.3H339.0V271.1H334.9ZM343.1 267.3H347.2V271.1H343.1ZM379.9 267.3H384.0V271.1H379.9ZM433.1 267.3H437.2V271.1H433.1ZM470.0 267.3H474.1V271.1H470.0ZM400.4 271.1H404.5V274.9H400.4ZM412.7 271.1H416.8V274.9H412.7ZM437.2 271.1H441.3V274.9H437.2ZM445.4 271.1H449.5V274.9H445.4ZM478.2 271.1H482.3V274.9H478.2ZM326.7 274.9H330.8V278.7H326.7ZM355.3 274.9H359.4V278.7H355.3ZM379.9 274.9H384.0V278.7H379.9ZM408.6 274.9H412.7V278.7H408.6ZM416.8 274.9H420.8V278.7H416.8ZM429.0 274.9H437.2V278.7H429.0ZM404.5 278.7H408.6V282.5H404.5ZM384.0 282.5H388.1V286.3H384.0ZM420.8 286.3H424.9V290.1H420.8ZM330.8 290.1H343.1V293.9H330.8ZM400.4 290.1H404.5V293.9H400.4ZM449.5 290.1H453.6V293.9H449.5ZM404.5 293.9H408.6V297.8H404.5ZM408.6 297.8H412.7V301.6H408.6ZM502.7 297.8H506.8V301.6H502.7ZM330.8 301.6H334.9V305.4H330.8ZM371.7 301.6H375.8V305.4H371.7ZM408.6 301.6H412.7V305.4H408.6ZM429.0 301.6H433.1V305.4H429.0ZM326.7 305.4H330.8V309.2H326.7ZM420.8 305.4H424.9V309.2H420.8ZM502.7 305.4H506.8V309.2H502.7ZM318.5 309.2H322.6V313.0H318.5ZM412.7 313.0H416.8V316.8H412.7ZM482.3 313.0H486.3V316.8H482.3ZM322.6 316.8H326.7V320.6H322.6ZM359.4 316.8H367.6V320.6H359.4ZM396.3 316.8H400.4V320.6H396.3ZM457.7 320.6H461.8V324.4H457.7ZM474.1 320.6H478.2V324.4H474.1ZM486.3 320.6H490.4V324.4H486.3ZM437.2 324.4H441.3V328.2H437.2ZM490.4 324.4H494.5V328.2H490.4ZM412.7 328.2H416.8V332.0H412.7ZM478.2 328.2H482.3V332.0H478.2ZM347.2 332.0H351.2V335.8H347.2ZM416.8 332.0H420.8V335.8H416.8ZM347.2 335.8H351.2V339.6H347.2ZM490.4 335.8H498.6V339.6H490.4ZM347.2 339.6H351.2V343.4H347.2ZM396.3 339.6H400.4V343.4H396.3ZM494.5 339.6H502.7V343.4H494.5ZM355.3 343.4H359.4V347.2H355.3ZM384.0 343.4H388.1V347.2H384.0ZM453.6 343.4H457.7V347.2H453.6ZM453.6 347.2H457.7V351.0H453.6ZM498.6 347.2H502.7V351.0H498.6ZM343.1 351.0H347.2V354.8H343.1ZM388.1 351.0H392.2V354.8H388.1ZM482.3 351.0H486.3V354.8H482.3ZM420.8 354.8H424.9V358.6H420.8ZM433.1 354.8H437.2V358.6H433.1ZM465.9 358.6H474.1V362.5H465.9ZM486.3 358.6H490.4V362.5H486.3ZM437.2 362.5H441.3V366.3H437.2ZM318.5 366.3H322.6V370.1H318.5ZM453.6 366.3H457.7V370.1H453.6ZM408.6 370.1H412.7V373.9H408.6ZM416.8 370.1H420.8V373.9H416.8ZM441.3 370.1H445.4V373.9H441.3ZM465.9 370.1H470.0V373.9H465.9ZM486.3 370.1H490.4V373.9H486.3ZM400.4 373.9H404.5V377.7H400.4ZM470.0 373.9H474.1V377.7H470.0ZM404.5 377.7H408.6V381.5H404.5ZM429.0 377.7H433.1V381.5H429.0ZM453.6 377.7H457.7V381.5H453.6ZM343.1 381.5H351.2V385.3H343.1ZM384.0 381.5H388.1V385.3H384.0ZM416.8 381.5H420.8V385.3H416.8ZM453.6 381.5H457.7V385.3H453.6ZM339.0 385.3H343.1V389.1H339.0ZM355.3 385.3H359.4V389.1H355.3ZM420.8 385.3H424.9V389.1H420.8ZM445.4 389.1H453.6V392.9H445.4ZM465.9 389.1H470.0V392.9H465.9ZM392.2 392.9H396.3V396.7H392.2ZM351.2 396.7H355.3V400.5H351.2ZM375.8 396.7H379.9V400.5H375.8ZM396.3 396.7H400.4V400.5H396.3ZM457.7 396.7H461.8V400.5H457.7ZM351.2 400.5H355.3V404.3H351.2ZM363.5 400.5H367.6V404.3H363.5ZM371.7 400.5H375.8V404.3H371.7ZM465.9 400.5H474.1V404.3H465.9ZM330.8 404.3H334.9V408.1H330.8ZM408.6 404.3H412.7V408.1H408.6ZM461.8 404.3H465.9V408.1H461.8ZM314.4 408.1H318.5V411.9H314.4ZM388.1 408.1H392.2V411.9H388.1ZM384.0 411.9H388.1V415.7H384.0ZM396.3 411.9H400.4V415.7H396.3ZM449.5 411.9H453.6V415.7H449.5ZM445.4 415.7H453.6V419.5H445.4ZM330.8 419.5H334.9V423.4H330.8ZM326.7 423.4H330.8V427.2H326.7ZM486.3 423.4H490.4V427.2H486.3ZM412.7 427.2H416.8V431.0H412.7ZM449.5 427.2H453.6V431.0H449.5ZM404.5 431.0H408.6V434.8H404.5ZM449.5 431.0H453.6V434.8H449.5ZM339.0 434.8H343.1V438.6H339.0ZM416.8 434.8H420.8V438.6H416.8ZM502.7 434.8H506.8V438.6H502.7ZM404.5 438.6H408.6V442.4H404.5Z"/>
<path fill="#a8a8a8" d="M441.3 263.5H445.4V267.3H441.3ZM326.7 267.3H330.8V271.1H326.7ZM429.0 267.3H433.1V271.1H429.0ZM441.3 267.3H445.4V271.1H441.3ZM461.8 267.3H465.9V271.1H461.8ZM441.3 271.1H445.4V274.9H441.3ZM465.9 271.1H470.0V274.9H465.9ZM314.4 274.9H318.5V278.7H314.4ZM502.7 274.9H506.8V278.7H502.7ZM396.3 278.7H400.4V282.5H396.3ZM502.7 282.5H506.8V286.3H502.7ZM408.6 286.3H412.7V290.1H408.6ZM445.4 286.3H449.5V290.1H445.4ZM351.2 290.1H355.3V293.9H351.2ZM424.9 290.1H429.0V293.9H424.9ZM453.6 290.1H457.7V293.9H453.6ZM465.9 290.1H474.1V293.9H465.9ZM363.5 293.9H371.7V297.8H363.5ZM449.5 293.9H453.6V297.8H449.5ZM470.0 297.8H474.1V301.6H470.0ZM363.5 301.6H371.7V305.4H363.5ZM363.5 305.4H367.6V309.2H363.5ZM453.6 305.4H457.7V309.2H453.6ZM322.6 309.2H334.9V313.0H322.6ZM322.6 313.0H326.7V316.8H322.6ZM429.0 313.0H433.1V316.8H429.0ZM478.2 313.0H482.3V316.8H478.2ZM408.6 316.8H412.7V320.6H408.6ZM441.3 316.8H445.4V320.6H441.3ZM490.4 316.8H494.5V320.6H490.4ZM359.4 320.6H363.5V324.4H359.4ZM424.9 320.6H429.0V324.4H424.9ZM343.1 324.4H347.2V328.2H343.1ZM359.4 324.4H363.5V328.2H359.4ZM396.3 324.4H400.4V328.2H396.3ZM498.6 324.4H502.7V328.2H498.6ZM359.4 328.2H367.6V332.0H359.4ZM424.9 328.2H429.0V332.0H424.9ZM396.3 332.0H400.4V335.8H396.3ZM490.4 332.0H494.5V335.8H490.4ZM457.7 343.4H461.8V347.2H457.7ZM441.3 354.8H445.4V358.6H441.3ZM449.5 354.8H453.6V358.6H449.5ZM326.7 358.6H330.8V362.5H326.7ZM424.9 358.6H429.0V362.5H424.9ZM433.1 358.6H437.2V362.5H433.1ZM478.2 358.6H482.3V362.5H478.2ZM326.7 362.5H330.8V366.3H326.7ZM384.0 362.5H388.1V366.3H384.0ZM424.9 362.5H429.0V366.3H424.9ZM326.7 366.3H330.8V370.1H326.7ZM379.9 366.3H384.0V370.1H379.9ZM408.6 366.3H412.7V370.1H408.6ZM441.3 366.3H445.4V370.1H441.3ZM470.0 366.3H474.1V370.1H470.0ZM498.6 366.3H506.8V370.1H498.6ZM367.6 370.1H371.7V373.9H367.6ZM384.0 370.1H388.1V373.9H384.0ZM412.7 370.1H416.8V373.9H412.7ZM437.2 370.1H441.3V373.9H437.2ZM404.5 373.9H408.6V377.7H404.5ZM318.5 381.5H322.6V385.3H318.5ZM379.9 381.5H384.0V385.3H379.9ZM375.8 385.3H379.9V389.1H375.8ZM486.3 385.3H490.4V389.1H486.3ZM347.2 389.1H351.2V392.9H347.2ZM416.8 389.1H420.8V392.9H416.8ZM453.6 389.1H457.7V392.9H453.6ZM351.2 392.9H355.3V396.7H351.2ZM388.1 392.9H392.2V396.7H388.1ZM420.8 392.9H424.9V396.7H420.8ZM449.5 392.9H453.6V396.7H449.5ZM330.8 396.7H334.9V400.5H330.8ZM379.9 396.7H384.0V400.5H379.9ZM424.9 396.7H429.0V400.5H424.9ZM482.3 396.7H486.3V400.5H482.3ZM490.4 396.7H494.5V400.5H490.4ZM330.8 400.5H334.9V404.3H330.8ZM424.9 400.5H429.0V404.3H424.9ZM318.5 408.1H322.6V411.9H318.5ZM404.5 408.1H408.6V411.9H404.5ZM326.7 415.7H334.9V419.5H326.7ZM318.5 419.5H322.6V423.4H318.5ZM318.5 423.4H322.6V427.2H318.5ZM388.1 427.2H392.2V431.0H388.1ZM367.6 431.0H371.7V434.8H367.6ZM314.4 434.8H318.5V438.6H314.4ZM343.1 438.6H347.2V442.4H343.1ZM351.2 438.6H355.3V442.4H351.2ZM371.7 438.6H375.8V442.4H371.7ZM400.4 438.6H404.5V442.4H400.4Z"/>
<path fill="#acacac" d="M330.8 263.5H334.9V267.3H330.8ZM470.0 263.5H474.1V267.3H470.0ZM367.6 267.3H371.7V271.1H367.6ZM326.7 271.1H330.8V274.9H326.7ZM334.9 271.1H339.0V274.9H334.9ZM384.0 271.1H388.1V274.9H384.0ZM433.1 271.1H437.2V274.9H433.1ZM470.0 271.1H474.1V274.9H470.0ZM490.4 271.1H494.5V274.9H490.4ZM334.9 274.9H339.0V278.7H334.9ZM367.6 274.9H371.7V278.7H367.6ZM396.3 274.9H400.4V278.7H396.3ZM449.5 274.9H453.6V278.7H449.5ZM351.2 278.7H355.3V282.5H351.2ZM359.4 278.7H363.5V282.5H359.4ZM408.6 278.7H412.7V282.5H408.6ZM359.4 282.5H363.5V286.3H359.4ZM400.4 282.5H408.6V286.3H400.4ZM445.4 282.5H449.5V286.3H445.4ZM498.6 282.5H502.7V286.3H498.6ZM330.8 286.3H334.9V290.1H330.8ZM363.5 286.3H367.6V290.1H363.5ZM400.4 286.3H404.5V290.1H400.4ZM470.0 286.3H474.1V290.1H470.0ZM339.0 293.9H343.1V297.8H339.0ZM408.6 293.9H416.8V297.8H408.6ZM453.6 293.9H457.7V297.8H453.6ZM420.8 301.6H424.9V305.4H420.8ZM424.9 309.2H429.0V313.0H424.9ZM424.9 313.0H429.0V316.8H424.9ZM486.3 313.0H490.4V316.8H486.3ZM420.8 316.8H424.9V320.6H420.8ZM437.2 316.8H441.3V320.6H437.2ZM474.1 316.8H478.2V320.6H474.1ZM420.8 320.6H424.9V324.4H420.8ZM453.6 320.6H457.7V324.4H453.6ZM478.2 320.6H482.3V324.4H478.2ZM412.7 324.4H420.8V328.2H412.7ZM449.5 324.4H457.7V328.2H449.5ZM474.1 324.4H482.3V328.2H474.1ZM400.4 332.0H404.5V335.8H400.4ZM494.5 332.0H498.6V335.8H494.5ZM330.8 335.8H334.9V339.6H330.8ZM396.3 335.8H400.4V339.6H396.3ZM416.8 335.8H420.8V339.6H416.8ZM445.4 335.8H449.5V339.6H445.4ZM502.7 343.4H506.8V347.2H502.7ZM343.1 347.2H351.2V351.0H343.1ZM420.8 347.2H424.9V351.0H420.8ZM420.8 351.0H429.0V354.8H420.8ZM457.7 351.0H461.8V354.8H457.7ZM441.3 358.6H445.4V362.5H441.3ZM453.6 358.6H457.7V362.5H453.6ZM334.9 362.5H339.0V366.3H334.9ZM355.3 362.5H359.4V366.3H355.3ZM445.4 362.5H449.5V366.3H445.4ZM314.4 366.3H318.5V370.1H314.4ZM363.5 366.3H371.7V370.1H363.5ZM404.5 366.3H408.6V370.1H404.5ZM465.9 366.3H470.0V370.1H465.9ZM494.5 366.3H498.6V370.1H494.5ZM404.5 370.1H408.6V373.9H404.5ZM429.0 373.9H433.1V377.7H429.0ZM322.6 385.3H326.7V389.1H322.6ZM347.2 385.3H351.2V389.1H347.2ZM363.5 389.1H367.6V392.9H363.5ZM384.0 389.1H388.1V392.9H384.0ZM437.2 389.1H441.3V392.9H437.2ZM453.6 392.9H457.7V396.7H453.6ZM408.6 400.5H412.7V404.3H408.6ZM314.4 404.3H318.5V408.1H314.4ZM457.7 404.3H461.8V408.1H457.7ZM474.1 404.3H478.2V408.1H474.1ZM486.3 408.1H490.4V411.9H486.3ZM445.4 411.9H449.5V415.7H445.4ZM490.4 411.9H494.5V415.7H490.4ZM334.9 415.7H339.0V419.5H334.9ZM384.0 419.5H388.1V423.4H384.0ZM322.6 423.4H326.7V427.2H322.6ZM371.7 427.2H375.8V431.0H371.7ZM343.1 431.0H347.2V434.8H343.1ZM420.8 431.0H424.9V434.8H420.8ZM367.6 434.8H371.7V438.6H367.6ZM384.0 438.6H388.1V442.4H384.0Z"/>
<path fill="#b0b0b0" d="M343.1 263.5H347.2V267.3H343.1ZM424.9 263.5H429.0V267.3H424.9ZM445.4 267.3H449.5V271.1H445.4ZM461.8 271.1H465.9V274.9H461.8ZM494.5 274.9H498.6V278.7H494.5ZM367.6 278.7H371.7V282.5H367.6ZM400.4 278.7H404.5V282.5H400.4ZM449.5 278.7H453.6V282.5H449.5ZM498.6 278.7H502.7V282.5H498.6ZM441.3 282.5H445.4V286.3H441.3ZM334.9 286.3H339.0V290.1H334.9ZM355.3 290.1H359.4V293.9H355.3ZM347.2 293.9H351.2V297.8H347.2ZM343.1 301.6H347.2V305.4H343.1ZM416.8 305.4H420.8V309.2H416.8ZM412.7 309.2H424.9V313.0H412.7ZM490.4 309.2H494.5V313.0H490.4ZM416.8 313.0H420.8V316.8H416.8ZM474.1 313.0H478.2V316.8H474.1ZM494.5 313.0H498.6V316.8H494.5ZM412.7 316.8H420.8V320.6H412.7ZM478.2 316.8H482.3V320.6H478.2ZM330.8 320.6H334.9V324.4H330.8ZM408.6 320.6H412.7V324.4H408.6ZM416.8 320.6H420.8V324.4H416.8ZM420.8 324.4H424.9V328.2H420.8ZM396.3 328.2H400.4V332.0H396.3ZM490.4 328.2H494.5V332.0H490.4ZM330.8 332.0H334.9V335.8H330.8ZM339.0 335.8H347.2V339.6H339.0ZM318.5 339.6H322.6V343.4H318.5ZM420.8 339.6H424.9V343.4H420.8ZM445.4 339.6H449.5V343.4H445.4ZM457.7 347.2H461.8V351.0H457.7ZM474.1 347.2H478.2V351.0H474.1ZM322.6 351.0H326.7V354.8H322.6ZM334.9 351.0H343.1V354.8H334.9ZM400.4 351.0H404.5V354.8H400.4ZM404.5 354.8H412.7V358.6H404.5ZM429.0 354.8H433.1V358.6H429.0ZM363.5 358.6H367.6V362.5H363.5ZM429.0 358.6H433.1V362.5H429.0ZM445.4 358.6H449.5V362.5H445.4ZM363.5 362.5H367.6V366.3H363.5ZM433.1 362.5H437.2V366.3H433.1ZM441.3 362.5H445.4V366.3H441.3ZM355.3 366.3H359.4V370.1H355.3ZM388.1 366.3H392.2V370.1H388.1ZM429.0 366.3H433.1V370.1H429.0ZM449.5 370.1H453.6V373.9H449.5ZM474.1 370.1H478.2V373.9H474.1ZM433.1 373.9H437.2V377.7H433.1ZM367.6 381.5H371.7V385.3H367.6ZM318.5 385.3H322.6V389.1H318.5ZM343.1 385.3H347.2V389.1H343.1ZM384.0 385.3H388.1V389.1H384.0ZM416.8 385.3H420.8V389.1H416.8ZM457.7 385.3H461.8V389.1H457.7ZM355.3 392.9H359.4V396.7H355.3ZM355.3 396.7H363.5V400.5H355.3ZM367.6 400.5H371.7V404.3H367.6ZM420.8 400.5H424.9V404.3H420.8ZM478.2 400.5H482.3V404.3H478.2ZM355.3 404.3H359.4V408.1H355.3ZM478.2 404.3H482.3V408.1H478.2ZM355.3 408.1H359.4V411.9H355.3ZM400.4 408.1H404.5V411.9H400.4ZM441.3 411.9H445.4V415.7H441.3ZM486.3 411.9H490.4V415.7H486.3ZM392.2 415.7H396.3V419.5H392.2ZM334.9 419.5H339.0V423.4H334.9ZM343.1 419.5H347.2V423.4H343.1ZM330.8 434.8H334.9V438.6H330.8ZM375.8 438.6H384.0V442.4H375.8ZM470.0 438.6H474.1V442.4H470.0Z"/>
<path fill="#b4b4b4" d="M334.9 263.5H339.0V267.3H334.9ZM429.0 263.5H433.1V267.3H429.0ZM445.4 263.5H449.5V267.3H445.4ZM371.7 267.3H375.8V271.1H371.7ZM379.9 271.1H384.0V274.9H379.9ZM363.5 274.9H367.6V278.7H363.5ZM400.4 274.9H404.5V278.7H400.4ZM412.7 274.9H416.8V278.7H412.7ZM355.3 278.7H359.4V282.5H355.3ZM351.2 282.5H355.3V286.3H351.2ZM465.9 282.5H470.0V286.3H465.9ZM347.2 286.3H351.2V290.1H347.2ZM359.4 290.1H367.6V293.9H359.4ZM416.8 290.1H420.8V293.9H416.8ZM424.9 293.9H429.0V297.8H424.9ZM343.1 297.8H351.2V301.6H343.1ZM412.7 297.8H416.8V301.6H412.7ZM347.2 301.6H351.2V305.4H347.2ZM449.5 301.6H453.6V305.4H449.5ZM371.7 305.4H375.8V309.2H371.7ZM412.7 305.4H416.8V309.2H412.7ZM494.5 309.2H498.6V313.0H494.5ZM314.4 313.0H318.5V316.8H314.4ZM420.8 313.0H424.9V316.8H420.8ZM470.0 313.0H474.1V316.8H470.0ZM314.4 316.8H318.5V320.6H314.4ZM441.3 320.6H445.4V324.4H441.3ZM339.0 324.4H343.1V328.2H339.0ZM424.9 324.4H429.0V328.2H424.9ZM334.9 335.8H339.0V339.6H334.9ZM334.9 339.6H343.1V343.4H334.9ZM318.5 343.4H322.6V347.2H318.5ZM347.2 343.4H351.2V347.2H347.2ZM408.6 351.0H412.7V354.8H408.6ZM424.9 354.8H429.0V358.6H424.9ZM445.4 354.8H449.5V358.6H445.4ZM457.7 354.8H461.8V358.6H457.7ZM359.4 358.6H363.5V362.5H359.4ZM457.7 358.6H461.8V362.5H457.7ZM347.2 362.5H351.2V366.3H347.2ZM429.0 362.5H433.1V366.3H429.0ZM437.2 366.3H441.3V370.1H437.2ZM363.5 370.1H367.6V373.9H363.5ZM445.4 370.1H449.5V373.9H445.4ZM445.4 385.3H449.5V389.1H445.4ZM318.5 389.1H322.6V392.9H318.5ZM359.4 389.1H363.5V392.9H359.4ZM486.3 396.7H490.4V400.5H486.3ZM482.3 411.9H486.3V415.7H482.3ZM339.0 415.7H343.1V419.5H339.0ZM339.0 419.5H343.1V423.4H339.0ZM379.9 427.2H384.0V431.0H379.9ZM465.9 427.2H470.0V431.0H465.9ZM318.5 431.0H322.6V434.8H318.5ZM343.1 434.8H347.2V438.6H343.1ZM375.8 434.8H379.9V438.6H375.8ZM424.9 434.8H429.0V438.6H424.9ZM347.2 438.6H351.2V442.4H347.2ZM396.3 438.6H400.4V442.4H396.3Z"/>
<path fill="#b8b8b8" d="M339.0 263.5H343.1V267.3H339.0ZM330.8 267.3H334.9V271.1H330.8ZM330.8 274.9H334.9V278.7H330.8ZM498.6 274.9H502.7V278.7H498.6ZM363.5 278.7H367.6V282.5H363.5ZM502.7 278.7H506.8V282.5H502.7ZM359.4 286.3H363.5V290.1H359.4ZM404.5 286.3H408.6V290.1H404.5ZM347.2 290.1H351.2V293.9H347.2ZM408.6 290.1H412.7V293.9H408.6ZM420.8 297.8H424.9V301.6H420.8ZM429.0 297.8H433.1V301.6H429.0ZM449.5 297.8H453.6V301.6H449.5ZM396.3 301.6H400.4V305.4H396.3ZM412.7 301.6H416.8V305.4H412.7ZM330.8 305.4H334.9V309.2H330.8ZM490.4 313.0H494.5V316.8H490.4ZM334.9 320.6H339.0V324.4H334.9ZM334.9 324.4H339.0V328.2H334.9ZM478.2 332.0H482.3V335.8H478.2ZM482.3 335.8H486.3V339.6H482.3ZM343.1 339.6H347.2V343.4H343.1ZM314.4 343.4H318.5V347.2H314.4ZM343.1 343.4H347.2V347.2H343.1ZM474.1 343.4H478.2V347.2H474.1ZM498.6 343.4H502.7V347.2H498.6ZM490.4 351.0H494.5V354.8H490.4ZM453.6 354.8H457.7V358.6H453.6ZM433.1 366.3H437.2V370.1H433.1ZM478.2 366.3H482.3V370.1H478.2ZM347.2 370.1H351.2V373.9H347.2ZM355.3 370.1H359.4V373.9H355.3ZM470.0 370.1H474.1V373.9H470.0ZM347.2 373.9H359.4V377.7H347.2ZM457.7 381.5H461.8V385.3H457.7ZM379.9 385.3H384.0V389.1H379.9ZM420.8 389.1H424.9V392.9H420.8ZM441.3 389.1H445.4V392.9H441.3ZM359.4 392.9H363.5V396.7H359.4ZM404.5 392.9H408.6V396.7H404.5ZM334.9 396.7H339.0V400.5H334.9ZM474.1 396.7H478.2V400.5H474.1ZM474.1 400.5H478.2V404.3H474.1ZM371.7 408.1H375.8V411.9H371.7ZM482.3 408.1H486.3V411.9H482.3ZM441.3 419.5H445.4V423.4H441.3ZM379.9 431.0H384.0V434.8H379.9ZM420.8 434.8H424.9V438.6H420.8Z"/>
<path fill="#bcbcbc" d="M400.4 263.5H404.5V267.3H400.4ZM416.8 263.5H420.8V267.3H416.8ZM457.7 263.5H461.8V267.3H457.7ZM482.3 267.3H486.3V271.1H482.3ZM449.5 271.1H453.6V274.9H449.5ZM355.3 286.3H359.4V290.1H355.3ZM465.9 286.3H470.0V290.1H465.9ZM412.7 320.6H416.8V324.4H412.7ZM420.8 343.4H424.9V347.2H420.8ZM314.4 347.2H322.6V351.0H314.4ZM482.3 347.2H486.3V351.0H482.3ZM314.4 351.0H318.5V354.8H314.4ZM379.9 351.0H384.0V354.8H379.9ZM351.2 362.5H355.3V366.3H351.2ZM347.2 366.3H351.2V370.1H347.2ZM482.3 366.3H486.3V370.1H482.3ZM351.2 370.1H355.3V373.9H351.2ZM433.1 370.1H437.2V373.9H433.1ZM457.7 389.1H461.8V392.9H457.7ZM441.3 392.9H445.4V396.7H441.3ZM457.7 400.5H461.8V404.3H457.7ZM392.2 411.9H396.3V415.7H392.2ZM379.9 423.4H384.0V427.2H379.9ZM453.6 423.4H457.7V427.2H453.6ZM347.2 431.0H351.2V434.8H347.2ZM474.1 431.0H478.2V434.8H474.1ZM322.6 434.8H326.7V438.6H322.6ZM347.2 434.8H351.2V438.6H347.2Z"/>
<path fill="#c0c0c0" d="M416.8 267.3H420.8V271.1H416.8ZM482.3 271.1H486.3V274.9H482.3ZM490.4 274.9H494.5V278.7H490.4ZM351.2 286.3H355.3V290.1H351.2ZM404.5 290.1H408.6V293.9H404.5ZM461.8 290.1H465.9V293.9H461.8ZM416.8 293.9H420.8V297.8H416.8ZM424.9 297.8H429.0V301.6H424.9ZM318.5 313.0H322.6V316.8H318.5ZM449.5 313.0H453.6V316.8H449.5ZM318.5 316.8H322.6V320.6H318.5ZM437.2 320.6H441.3V324.4H437.2ZM330.8 328.2H334.9V332.0H330.8ZM375.8 328.2H379.9V332.0H375.8ZM371.7 332.0H375.8V335.8H371.7ZM318.5 351.0H322.6V354.8H318.5ZM494.5 351.0H498.6V354.8H494.5ZM379.9 362.5H384.0V366.3H379.9ZM478.2 362.5H482.3V366.3H478.2ZM486.3 362.5H490.4V366.3H486.3ZM351.2 366.3H355.3V370.1H351.2ZM486.3 366.3H490.4V370.1H486.3ZM359.4 381.5H363.5V385.3H359.4ZM465.9 381.5H470.0V385.3H465.9ZM412.7 400.5H416.8V404.3H412.7ZM461.8 400.5H465.9V404.3H461.8ZM330.8 423.4H334.9V427.2H330.8ZM359.4 427.2H363.5V431.0H359.4ZM478.2 431.0H482.3V434.8H478.2ZM371.7 434.8H375.8V438.6H371.7ZM433.1 438.6H437.2V442.4H433.1Z"/>
<path fill="#c4c4c4" d="M486.3 267.3H490.4V271.1H486.3ZM330.8 271.1H334.9V274.9H330.8ZM461.8 286.3H465.9V290.1H461.8ZM412.7 290.1H416.8V293.9H412.7ZM420.8 290.1H424.9V293.9H420.8ZM363.5 297.8H367.6V301.6H363.5ZM416.8 297.8H420.8V301.6H416.8ZM453.6 297.8H457.7V301.6H453.6ZM392.2 309.2H396.3V313.0H392.2ZM371.7 328.2H375.8V332.0H371.7ZM400.4 328.2H404.5V332.0H400.4ZM384.0 366.3H388.1V370.1H384.0ZM441.3 373.9H445.4V377.7H441.3ZM490.4 415.7H494.5V419.5H490.4ZM388.1 419.5H392.2V423.4H388.1ZM490.4 419.5H494.5V423.4H490.4ZM339.0 427.2H343.1V431.0H339.0ZM355.3 431.0H359.4V434.8H355.3ZM371.7 431.0H375.8V434.8H371.7ZM482.3 431.0H486.3V434.8H482.3ZM437.2 438.6H441.3V442.4H437.2Z"/>
<path fill="#c8c8c8" d="M396.3 263.5H400.4V267.3H396.3ZM400.4 267.3H404.5V271.1H400.4ZM449.5 267.3H453.6V271.1H449.5ZM486.3 271.1H490.4V274.9H486.3ZM367.6 305.4H371.7V309.2H367.6ZM392.2 305.4H396.3V309.2H392.2ZM339.0 309.2H343.1V313.0H339.0ZM375.8 332.0H379.9V335.8H375.8ZM461.8 335.8H465.9V339.6H461.8ZM314.4 339.6H318.5V343.4H314.4ZM482.3 362.5H486.3V366.3H482.3ZM461.8 381.5H465.9V385.3H461.8ZM465.9 385.3H470.0V389.1H465.9ZM412.7 408.1H416.8V411.9H412.7ZM502.7 408.1H506.8V411.9H502.7ZM502.7 411.9H506.8V415.7H502.7ZM334.9 427.2H339.0V431.0H334.9ZM416.8 427.2H420.8V431.0H416.8ZM494.5 434.8H498.6V438.6H494.5ZM392.2 438.6H396.3V442.4H392.2ZM429.0 438.6H433.1V442.4H429.0Z"/>
<path fill="#cccccc" d="M363.5 282.5H367.6V286.3H363.5ZM318.5 290.1H322.6V293.9H318.5ZM420.8 293.9H424.9V297.8H420.8ZM339.0 305.4H343.1V309.2H339.0ZM334.9 309.2H339.0V313.0H334.9ZM445.4 313.0H449.5V316.8H445.4ZM429.0 343.4H433.1V347.2H429.0ZM392.2 354.8H396.3V358.6H392.2ZM412.7 366.3H416.8V370.1H412.7ZM429.0 381.5H433.1V385.3H429.0ZM347.2 392.9H351.2V396.7H347.2ZM502.7 404.3H506.8V408.1H502.7ZM437.2 408.1H441.3V411.9H437.2ZM334.9 423.4H343.1V427.2H334.9ZM416.8 431.0H420.8V434.8H416.8ZM355.3 434.8H359.4V438.6H355.3Z"/>
<path fill="#d0d0d0" d="M314.4 290.1H318.5V293.9H314.4ZM367.6 309.2H371.7V313.0H367.6ZM465.9 339.6H470.0V343.4H465.9ZM379.9 370.1H384.0V373.9H379.9ZM334.9 400.5H339.0V404.3H334.9ZM502.7 400.5H506.8V404.3H502.7ZM465.9 404.3H470.0V408.1H465.9ZM474.1 408.1H478.2V411.9H474.1Z"/>
<path fill="#d4d4d4" d="M367.6 297.8H371.7V301.6H367.6ZM334.9 305.4H339.0V309.2H334.9ZM502.7 392.9H506.8V396.7H502.7ZM351.2 431.0H355.3V434.8H351.2ZM351.2 434.8H355.3V438.6H351.2Z"/>
<path fill="#d8d8d8" d="M461.8 385.3H465.9V389.1H461.8ZM412.7 404.3H416.8V408.1H412.7Z"/>
<path fill="#dcdcdc" d="M396.3 370.1H400.4V373.9H396.3ZM437.2 377.7H441.3V381.5H437.2ZM502.7 396.7H506.8V400.5H502.7ZM404.5 411.9H408.6V415.7H404.5Z"/>
<path fill="#e0e0e0" d="M457.7 267.3H461.8V271.1H457.7ZM457.7 271.1H461.8V274.9H457.7ZM457.7 274.9H461.8V278.7H457.7ZM457.7 278.7H461.8V282.5H457.7ZM367.6 282.5H371.7V286.3H367.6ZM420.8 282.5H424.9V286.3H420.8ZM457.7 282.5H461.8V286.3H457.7ZM375.8 286.3H379.9V290.1H375.8ZM351.2 297.8H355.3V301.6H351.2ZM461.8 301.6H470.0V305.4H461.8ZM334.9 328.2H339.0V332.0H334.9ZM334.9 332.0H339.0V335.8H334.9ZM351.2 335.8H355.3V339.6H351.2ZM416.8 362.5H424.9V366.3H416.8ZM392.2 370.1H396.3V373.9H392.2ZM429.0 370.1H433.1V373.9H429.0ZM322.6 377.7H326.7V381.5H322.6ZM437.2 381.5H441.3V385.3H437.2ZM330.8 385.3H334.9V389.1H330.8ZM330.8 389.1H334.9V392.9H330.8ZM490.4 389.1H494.5V392.9H490.4ZM490.4 392.9H494.5V396.7H490.4ZM490.4 404.3H494.5V408.1H490.4ZM490.4 408.1H494.5V411.9H490.4ZM339.0 411.9H343.1V415.7H339.0ZM400.4 411.9H404.5V415.7H400.4ZM363.5 419.5H367.6V423.4H363.5Z"/>
<path fill="#e4e4e4" d="M322.6 431.0H326.7V434.8H322.6Z"/>
<path fill="#f0f0f0" d="M412.7 286.3H416.8V290.1H412.7ZM433.1 377.7H437.2V381.5H433.1ZM371.7 415.7H375.8V419.5H371.7ZM367.6 423.4H371.7V427.2H367.6ZM330.8 438.6H343.1V442.4H330.8ZM445.4 438.6H449.5V442.4H445.4ZM474.1 438.6H478.2V442.4H474.1Z"/>
<path fill="#f4f4f4" d="M486.3 434.8H490.4V438.6H486.3Z"/>
<path fill="#f8f8f8" d="M449.5 263.5H453.6V267.3H449.5ZM400.4 297.8H404.5V301.6H400.4ZM371.7 309.2H375.8V313.0H371.7ZM457.7 392.9H461.8V396.7H457.7ZM367.6 415.7H371.7V419.5H367.6ZM490.4 434.8H494.5V438.6H490.4Z"/>
<path fill="#fcfcfc" d="M453.6 263.5H457.7V267.3H453.6ZM453.6 267.3H457.7V271.1H453.6ZM367.6 271.1H379.9V274.9H367.6ZM453.6 271.1H457.7V274.9H453.6ZM453.6 274.9H457.7V278.7H453.6ZM416.8 278.7H420.8V282.5H416.8ZM453.6 278.7H457.7V282.5H453.6ZM371.7 282.5H375.8V286.3H371.7ZM416.8 282.5H420.8V286.3H416.8ZM453.6 282.5H457.7V286.3H453.6ZM314.4 286.3H318.5V290.1H314.4ZM392.2 293.9H404.5V297.8H392.2ZM392.2 297.8H400.4V301.6H392.2ZM404.5 297.8H408.6V301.6H404.5ZM453.6 301.6H457.7V305.4H453.6ZM355.3 313.0H359.4V316.8H355.3ZM424.9 366.3H429.0V370.1H424.9ZM334.9 373.9H339.0V377.7H334.9ZM437.2 373.9H441.3V377.7H437.2ZM433.1 381.5H437.2V385.3H433.1ZM494.5 389.1H502.7V392.9H494.5ZM461.8 392.9H465.9V396.7H461.8ZM494.5 392.9H502.7V396.7H494.5ZM494.5 396.7H502.7V400.5H494.5ZM494.5 400.5H502.7V404.3H494.5ZM494.5 404.3H502.7V408.1H494.5ZM494.5 408.1H502.7V411.9H494.5ZM494.5 411.9H502.7V415.7H494.5ZM494.5 415.7H502.7V419.5H494.5ZM494.5 419.5H502.7V423.4H494.5ZM363.5 423.4H367.6V427.2H363.5ZM363.5 427.2H371.7V431.0H363.5ZM420.8 438.6H429.0V442.4H420.8ZM486.3 438.6H494.5V442.4H486.3Z"/>
</g></g>
<line x1="385.45" y1="263.60" x2="385.45" y2="442.30" stroke="#2a2a2a" stroke-width="0.55" />
<line x1="314.60" y1="327.45" x2="506.80" y2="327.45" stroke="#333" stroke-width="0.5" />
<ellipse cx="385.4" cy="327.2" rx="11.7" ry="10.9" fill="none" stroke="#222" stroke-width="0.55"/>
<text x="313.40" y="269.40" font-size="9.0" text-anchor="end">-4.8&#215;10<tspan font-size="6.2" dy="-3.6">2</tspan></text>
<text x="313.40" y="326.57" font-size="9.0" text-anchor="end">-1.2&#215;10<tspan font-size="6.2" dy="-3.6">4</tspan></text>
<text x="313.40" y="386.13" font-size="9.0" text-anchor="end">-2.4&#215;10<tspan font-size="6.2" dy="-3.6">4</tspan></text>
<text x="313.40" y="443.30" font-size="9.0" text-anchor="end">-3.5&#215;10<tspan font-size="6.2" dy="-3.6">4</tspan></text>
<text x="315.20" y="455.30" font-size="9.0" text-anchor="middle">-1.74&#215;10<tspan font-size="6.2" dy="-3.6">4</tspan></text>
<text x="379.27" y="455.30" font-size="9.0" text-anchor="middle">-5.80&#215;10<tspan font-size="6.2" dy="-3.6">3</tspan></text>
<text x="443.33" y="455.30" font-size="9.0" text-anchor="middle">5.80&#215;10<tspan font-size="6.2" dy="-3.6">3</tspan></text>
<text x="507.70" y="455.30" font-size="9.0" text-anchor="middle">1.74&#215;10<tspan font-size="6.2" dy="-3.6">4</tspan></text>
<text x="410.70" y="464.60" font-size="9.0" text-anchor="middle" >x-distance [km]</text>
<text transform="translate(273.20,353.35) rotate(-90)" font-size="9.0" text-anchor="middle">y-distance [km]</text>
<text x="323.90" y="281.80" font-size="18.8" text-anchor="start" >(g)</text>
<path d="M314.6 479.0h3.8M314.6 485.0h1.9M314.6 490.9h1.9M314.6 496.9h1.9M314.6 502.9h1.9M314.6 508.8h1.9M314.6 514.8h1.9M314.6 520.7h1.9M314.6 526.7h1.9M314.6 532.7h1.9M314.6 538.6h3.8M314.6 544.6h1.9M314.6 550.6h1.9M314.6 556.5h1.9M314.6 562.5h1.9M314.6 568.5h1.9M314.6 574.4h1.9M314.6 580.4h1.9M314.6 586.3h1.9M314.6 592.3h1.9M314.6 598.3h3.8M314.6 604.2h1.9M314.6 610.2h1.9M314.6 616.2h1.9M314.6 622.1h1.9M314.6 628.1h1.9M314.6 634.0h1.9M314.6 640.0h1.9M314.6 646.0h1.9M314.6 651.9h1.9M314.6 657.9h3.8M506.8 479.0h-3.8M506.8 485.0h-1.9M506.8 490.9h-1.9M506.8 496.9h-1.9M506.8 502.9h-1.9M506.8 508.8h-1.9M506.8 514.8h-1.9M506.8 520.7h-1.9M506.8 526.7h-1.9M506.8 532.7h-1.9M506.8 538.6h-3.8M506.8 544.6h-1.9M506.8 550.6h-1.9M506.8 556.5h-1.9M506.8 562.5h-1.9M506.8 568.5h-1.9M506.8 574.4h-1.9M506.8 580.4h-1.9M506.8 586.3h-1.9M506.8 592.3h-1.9M506.8 598.3h-3.8M506.8 604.2h-1.9M506.8 610.2h-1.9M506.8 616.2h-1.9M506.8 622.1h-1.9M506.8 628.1h-1.9M506.8 634.0h-1.9M506.8 640.0h-1.9M506.8 646.0h-1.9M506.8 651.9h-1.9M506.8 657.9h-3.8M314.6 657.9v-3.6M378.7 657.9v-3.6M442.7 657.9v-3.6M506.8 657.9v-3.6M314.6 479.0v3.6M378.7 479.0v3.6M442.7 479.0v3.6M506.8 479.0v3.6" fill="none" stroke="#9a9a9a" stroke-width="0.8"/>
<rect x="314.60" y="479.00" width="192.20" height="178.90" fill="none" stroke="#aaaaaa" stroke-width="1.2"/>
<text x="312.10" y="484.20" font-size="9.0" text-anchor="end" >300</text>
<text x="312.10" y="541.73" font-size="9.0" text-anchor="end" >200</text>
<text x="312.10" y="601.37" font-size="9.0" text-anchor="end" >100</text>
<text x="312.10" y="656.90" font-size="9.0" text-anchor="end" >0</text>
<text x="315.20" y="669.60" font-size="9.0" text-anchor="middle">-1.74&#215;10<tspan font-size="6.2" dy="-3.6">4</tspan></text>
<text x="379.27" y="669.60" font-size="9.0" text-anchor="middle">-5.80&#215;10<tspan font-size="6.2" dy="-3.6">3</tspan></text>
<text x="443.33" y="669.60" font-size="9.0" text-anchor="middle">5.80&#215;10<tspan font-size="6.2" dy="-3.6">3</tspan></text>
<text x="507.70" y="669.60" font-size="9.0" text-anchor="middle">1.74&#215;10<tspan font-size="6.2" dy="-3.6">4</tspan></text>
<text x="410.70" y="678.40" font-size="9.0" text-anchor="middle" >x-distance [km]</text>
<text transform="translate(288.40,568.45) rotate(-90)" font-size="9.0" text-anchor="middle">Magnetic field B[G]</text>
<text x="323.90" y="497.00" font-size="18.8" text-anchor="start" >(h)</text>
<line x1="385.30" y1="479.00" x2="385.30" y2="657.90" stroke="#555" stroke-width="0.8" />
<line x1="314.60" y1="604.70" x2="506.80" y2="604.70" stroke="#999" stroke-width="0.8" stroke-dasharray="1 2.4"/>
<text x="414.60" y="604.20" font-size="13.7" text-anchor="start" >FWHM=1152 km</text>
<polyline points="314.60,657.72 316.75,657.72 316.75,657.72 320.83,657.72 320.83,657.72 324.92,657.72 324.92,654.56 329.00,654.56 329.00,657.72 333.09,657.72 333.09,656.17 337.18,656.17 337.18,654.56 341.26,654.56 341.26,654.56 345.35,654.56 345.35,657.72 349.43,657.72 349.43,657.72 353.52,657.72 353.52,655.22 357.61,655.22 357.61,657.72 361.69,657.72 361.69,654.56 365.78,654.56 365.78,657.72 369.86,657.72 369.86,656.59 373.95,656.59 373.95,655.22 378.04,655.22 378.04,640.19 382.12,640.19 382.12,551.75 386.21,551.75 386.21,631.84 390.29,631.84 390.29,646.57 394.38,646.57 394.38,651.70 398.47,651.70 398.47,657.60 402.55,657.60 402.55,655.22 406.64,655.22 406.64,655.81 410.72,655.81 410.72,657.42 414.81,657.42 414.81,654.62 418.90,654.62 418.90,654.62 422.98,654.62 422.98,657.90 427.07,657.90 427.07,657.30 431.15,657.30 431.15,656.59 435.24,656.59 435.24,655.22 439.33,655.22 439.33,653.01 443.41,653.01 443.41,657.60 447.50,657.60 447.50,656.59 451.58,656.59 451.58,657.60 455.67,657.60 455.67,654.32 459.76,654.32 459.76,656.59 463.84,656.59 463.84,657.60 467.93,657.60 467.93,650.57 472.01,650.57 472.01,655.93 476.10,655.93 476.10,652.83 480.19,652.83 480.19,655.22 484.27,655.22 484.27,657.90 488.36,657.90 488.36,657.60 492.44,657.60 492.44,651.94 496.53,651.94 496.53,655.22 500.62,655.22 500.62,657.30 504.70,657.30 504.70,657.90 506.80,657.90" fill="none" stroke="#444" stroke-width="0.5" stroke-linejoin="miter"/>
<polyline points="372.00,657.89 372.50,657.87 373.00,657.85 373.50,657.79 374.00,657.69 374.50,657.51 375.00,657.18 375.50,656.64 376.00,655.76 376.50,654.38 377.00,652.31 377.50,649.31 378.00,645.15 378.50,639.60 379.00,632.50 379.50,623.82 380.00,613.69 380.50,602.46 381.00,590.68 381.50,579.11 382.00,568.62 382.50,560.09 383.00,554.30 383.50,551.82 384.00,552.89 384.50,557.41 385.00,564.92 385.50,574.73 386.00,585.98 386.50,597.77 387.00,609.30 387.50,619.93 388.00,629.21 388.50,636.95 389.00,643.11 389.50,647.80 390.00,651.24 390.50,653.65 391.00,655.28 391.50,656.34 392.00,657.00 392.50,657.40 393.00,657.63 393.50,657.76 394.00,657.83 394.50,657.87 395.00,657.88 395.50,657.89 396.00,657.90" fill="none" stroke="#555" stroke-width="0.5" />
</svg>
</body></html>
